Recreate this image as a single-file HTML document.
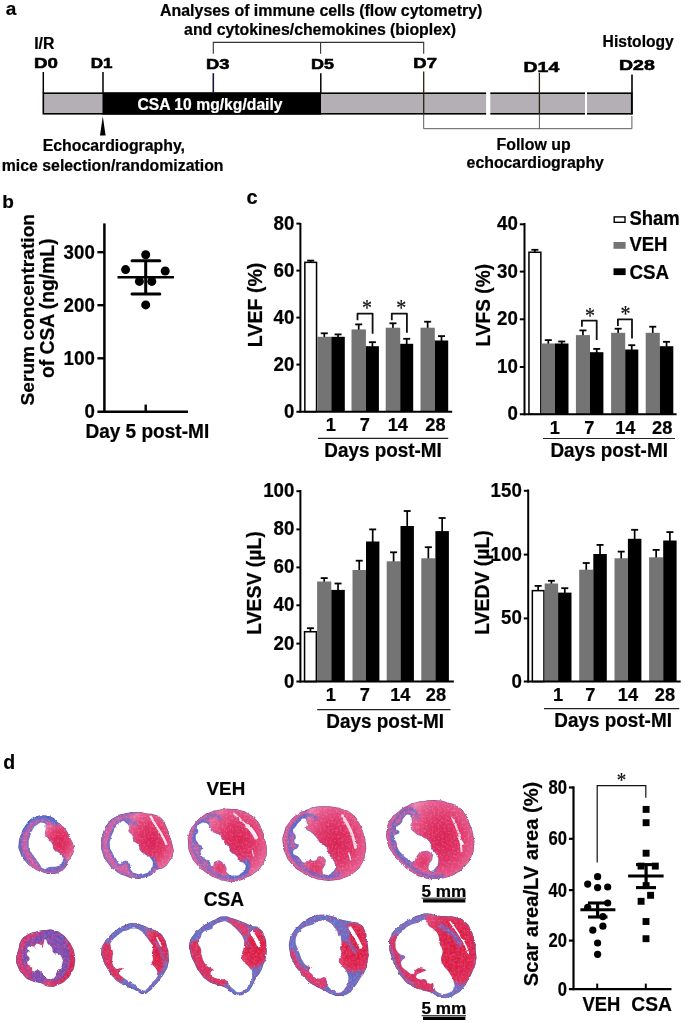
<!DOCTYPE html>
<html><head><meta charset="utf-8"><title>Figure</title>
<style>html,body{margin:0;padding:0;background:#fff}svg{display:block;will-change:transform}text{font-family:"Liberation Sans",sans-serif;font-weight:bold}</style>
</head><body>
<svg width="685" height="1023" viewBox="0 0 685 1023">
<rect width="685" height="1023" fill="#fff"/>
<text x="5.8" y="15.3" font-size="19" text-anchor="start" fill="#000"  stroke="#000" stroke-width="0.22">a</text>
<text x="160" y="15.7" font-size="15.9" text-anchor="start" fill="#000" textLength="322.3" lengthAdjust="spacingAndGlyphs"  stroke="#000" stroke-width="0.22">Analyses of immune cells (flow cytometry)</text>
<text x="184.1" y="35.1" font-size="15.9" text-anchor="start" fill="#000" textLength="272" lengthAdjust="spacingAndGlyphs"  stroke="#000" stroke-width="0.22">and cytokines/chemokines (bioplex)</text>
<path d="M213.3,53.8 V42.4 H423.7 V53.8 M320.6,42.4 V53.8" fill="none" stroke="#333" stroke-width="1.1"/>
<text x="34.2" y="48.7" font-size="16" text-anchor="start" fill="#000" textLength="20.2" lengthAdjust="spacingAndGlyphs"  stroke="#000" stroke-width="0.22">I/R</text>
<text x="33.9" y="68.2" font-size="14.6" text-anchor="start" fill="#000" textLength="23.9" lengthAdjust="spacingAndGlyphs" stroke="#000" stroke-width="0.55">D0</text>
<text x="90.7" y="68.2" font-size="14.6" text-anchor="start" fill="#000" textLength="21.8" lengthAdjust="spacingAndGlyphs" stroke="#000" stroke-width="0.55">D1</text>
<text x="205.9" y="69.3" font-size="14.6" text-anchor="start" fill="#000" textLength="23.5" lengthAdjust="spacingAndGlyphs" stroke="#000" stroke-width="0.55">D3</text>
<text x="311" y="69.3" font-size="14.6" text-anchor="start" fill="#000" textLength="23" lengthAdjust="spacingAndGlyphs" stroke="#000" stroke-width="0.55">D5</text>
<text x="413.3" y="67.7" font-size="14.6" text-anchor="start" fill="#000" textLength="23.6" lengthAdjust="spacingAndGlyphs" stroke="#000" stroke-width="0.55">D7</text>
<text x="523.6" y="71.5" font-size="14.6" text-anchor="start" fill="#000" textLength="35.6" lengthAdjust="spacingAndGlyphs" stroke="#000" stroke-width="0.55">D14</text>
<text x="619" y="69.5" font-size="14.6" text-anchor="start" fill="#000" textLength="35.8" lengthAdjust="spacingAndGlyphs" stroke="#000" stroke-width="0.55">D28</text>
<text x="602.6" y="47" font-size="15.6" text-anchor="start" fill="#000" textLength="71.2" lengthAdjust="spacingAndGlyphs"  stroke="#000" stroke-width="0.22">Histology</text>
<rect x="43.3" y="93.2" width="588.4" height="20.6" fill="#b4afb4" stroke="#000" stroke-width="1.6"/>
<rect x="102.5" y="92.5" width="218.5" height="22.1" fill="#000"/>
<rect x="486.1" y="91" width="4.2" height="25" fill="#fff"/>
<rect x="585" y="91" width="2" height="25" fill="#fff"/>
<text x="137.4" y="109.6" font-size="15.6" text-anchor="start" fill="#fff" textLength="145.2" lengthAdjust="spacingAndGlyphs"  stroke="#fff" stroke-width="0.22">CSA 10 mg/kg/daily</text>
<line x1="43.3" y1="72" x2="43.3" y2="93" stroke="#000" stroke-width="1.5" stroke-linecap="butt"/>
<line x1="103" y1="72" x2="103" y2="93" stroke="#000" stroke-width="1.5" stroke-linecap="butt"/>
<line x1="213.3" y1="73.2" x2="213.3" y2="93" stroke="#1e1240" stroke-width="1.6" stroke-linecap="butt"/>
<line x1="320.8" y1="73.2" x2="320.8" y2="93" stroke="#000" stroke-width="1.5" stroke-linecap="butt"/>
<line x1="423.7" y1="71.6" x2="423.7" y2="114.4" stroke="#2b2110" stroke-width="1.3" stroke-linecap="butt"/>
<line x1="539.4" y1="72.8" x2="539.4" y2="114.4" stroke="#2b2110" stroke-width="1.3" stroke-linecap="butt"/>
<line x1="632" y1="74.4" x2="632" y2="114.4" stroke="#000" stroke-width="1.6" stroke-linecap="butt"/>
<path d="M102.8,116.3 L105.6,135.5 H100 Z" fill="#000"/>
<text x="42.7" y="151.3" font-size="15.8" text-anchor="start" fill="#000" textLength="142.3" lengthAdjust="spacingAndGlyphs"  stroke="#000" stroke-width="0.22">Echocardiography,</text>
<text x="1.8" y="170.5" font-size="15.8" text-anchor="start" fill="#000" textLength="221.7" lengthAdjust="spacingAndGlyphs"  stroke="#000" stroke-width="0.22">mice selection/randomization</text>
<path d="M423.7,114.4 V128.7 H631.9 V116 M539.4,114.4 V128.7" fill="none" stroke="#4a4a4a" stroke-width="0.9"/>
<text x="496.5" y="149.8" font-size="15.8" text-anchor="start" fill="#000" textLength="74.1" lengthAdjust="spacingAndGlyphs"  stroke="#000" stroke-width="0.22">Follow up</text>
<text x="466.6" y="167.8" font-size="15.8" text-anchor="start" fill="#000" textLength="137.3" lengthAdjust="spacingAndGlyphs"  stroke="#000" stroke-width="0.22">echocardiography</text>
<text x="2.2" y="207.8" font-size="19" text-anchor="start" fill="#000"  stroke="#000" stroke-width="0.22">b</text>
<line x1="104.4" y1="223.4" x2="104.4" y2="413" stroke="#000" stroke-width="2.5" stroke-linecap="butt"/>
<line x1="97.4" y1="411.8" x2="188" y2="411.8" stroke="#000" stroke-width="2.5" stroke-linecap="butt"/>
<line x1="97.4" y1="252.2" x2="104.4" y2="252.2" stroke="#000" stroke-width="2.4" stroke-linecap="butt"/>
<line x1="97.4" y1="305.2" x2="104.4" y2="305.2" stroke="#000" stroke-width="2.4" stroke-linecap="butt"/>
<line x1="97.4" y1="358.3" x2="104.4" y2="358.3" stroke="#000" stroke-width="2.4" stroke-linecap="butt"/>
<text x="94.8" y="258.5" font-size="20" text-anchor="end" fill="#000" textLength="31.2" lengthAdjust="spacingAndGlyphs"  stroke="#000" stroke-width="0.22">300</text>
<text x="94.8" y="311.5" font-size="20" text-anchor="end" fill="#000" textLength="31.2" lengthAdjust="spacingAndGlyphs"  stroke="#000" stroke-width="0.22">200</text>
<text x="94.8" y="364.6" font-size="20" text-anchor="end" fill="#000" textLength="31.2" lengthAdjust="spacingAndGlyphs"  stroke="#000" stroke-width="0.22">100</text>
<text x="94.8" y="418.0" font-size="20" text-anchor="end" fill="#000" textLength="10.4" lengthAdjust="spacingAndGlyphs"  stroke="#000" stroke-width="0.22">0</text>
<line x1="145.7" y1="404.6" x2="145.7" y2="411.7" stroke="#000" stroke-width="2.4" stroke-linecap="butt"/>
<text x="85.4" y="437.7" font-size="19.5" text-anchor="start" fill="#000" textLength="123.8" lengthAdjust="spacingAndGlyphs"  stroke="#000" stroke-width="0.22">Day 5 post-MI</text>
<text transform="translate(33.9,309.7) rotate(-90)" font-size="19.2" text-anchor="middle" fill="#000" stroke="#000" stroke-width="0.22" textLength="191.5" lengthAdjust="spacingAndGlyphs">Serum concentration</text>
<text transform="translate(53.7,308.3) rotate(-90)" font-size="19.4" text-anchor="middle" fill="#000" stroke="#000" stroke-width="0.22" textLength="139.5" lengthAdjust="spacingAndGlyphs">of CSA (ng/mL)</text>
<circle cx="145.7" cy="254.8" r="4.5" fill="#000"/>
<circle cx="125.6" cy="269.6" r="4.5" fill="#000"/>
<circle cx="165.2" cy="271" r="4.5" fill="#000"/>
<circle cx="139.4" cy="281.4" r="4.5" fill="#000"/>
<circle cx="151.8" cy="281.4" r="4.5" fill="#000"/>
<circle cx="145.7" cy="304.9" r="4.5" fill="#000"/>
<line x1="117.5" y1="277.3" x2="174" y2="277.3" stroke="#000" stroke-width="2.4" stroke-linecap="butt"/>
<line x1="132" y1="260.7" x2="159.8" y2="260.7" stroke="#000" stroke-width="3" stroke-linecap="round"/>
<line x1="132" y1="294" x2="159.8" y2="294" stroke="#000" stroke-width="3" stroke-linecap="round"/>
<line x1="145.7" y1="260.7" x2="145.7" y2="294" stroke="#000" stroke-width="3" stroke-linecap="butt"/>
<text x="246.6" y="203.8" font-size="20" text-anchor="start" fill="#000"  stroke="#000" stroke-width="0.22">c</text>
<line x1="310.70000000000005" y1="260.6" x2="310.70000000000005" y2="262.6" stroke="#000" stroke-width="1.7" stroke-linecap="butt"/>
<line x1="307.20000000000005" y1="260.6" x2="314.20000000000005" y2="260.6" stroke="#000" stroke-width="1.8" stroke-linecap="butt"/>
<rect x="304.85" y="262.35" width="11.699999999999989" height="149.34999999999997" fill="#fff" stroke="#000" stroke-width="1.5"/>
<line x1="324.3" y1="333.3" x2="324.3" y2="337.8" stroke="#000" stroke-width="1.7" stroke-linecap="butt"/>
<line x1="320.8" y1="333.3" x2="327.8" y2="333.3" stroke="#000" stroke-width="1.8" stroke-linecap="butt"/>
<rect x="317.3" y="336.8" width="14.0" height="74.89999999999998" fill="#747474"/>
<line x1="338.05" y1="334.4" x2="338.05" y2="337.8" stroke="#000" stroke-width="1.7" stroke-linecap="butt"/>
<line x1="334.55" y1="334.4" x2="341.55" y2="334.4" stroke="#000" stroke-width="1.8" stroke-linecap="butt"/>
<rect x="331.3" y="336.8" width="13.5" height="74.89999999999998" fill="#000"/>
<line x1="358.7" y1="324.4" x2="358.7" y2="330.4" stroke="#000" stroke-width="1.7" stroke-linecap="butt"/>
<line x1="355.2" y1="324.4" x2="362.2" y2="324.4" stroke="#000" stroke-width="1.8" stroke-linecap="butt"/>
<rect x="351.5" y="329.4" width="14.399999999999977" height="82.30000000000001" fill="#747474"/>
<line x1="372.4" y1="342.2" x2="372.4" y2="347.2" stroke="#000" stroke-width="1.7" stroke-linecap="butt"/>
<line x1="368.9" y1="342.2" x2="375.9" y2="342.2" stroke="#000" stroke-width="1.8" stroke-linecap="butt"/>
<rect x="365.9" y="346.2" width="13.0" height="65.5" fill="#000"/>
<line x1="392.95" y1="323.3" x2="392.95" y2="328.7" stroke="#000" stroke-width="1.7" stroke-linecap="butt"/>
<line x1="389.45" y1="323.3" x2="396.45" y2="323.3" stroke="#000" stroke-width="1.8" stroke-linecap="butt"/>
<rect x="385.7" y="327.7" width="14.5" height="84.0" fill="#747474"/>
<line x1="406.7" y1="338.8" x2="406.7" y2="344.8" stroke="#000" stroke-width="1.7" stroke-linecap="butt"/>
<line x1="403.2" y1="338.8" x2="410.2" y2="338.8" stroke="#000" stroke-width="1.8" stroke-linecap="butt"/>
<rect x="400.2" y="343.8" width="13.0" height="67.89999999999998" fill="#000"/>
<line x1="427.65" y1="321.7" x2="427.65" y2="328.7" stroke="#000" stroke-width="1.7" stroke-linecap="butt"/>
<line x1="424.15" y1="321.7" x2="431.15" y2="321.7" stroke="#000" stroke-width="1.8" stroke-linecap="butt"/>
<rect x="420.5" y="327.7" width="14.300000000000011" height="84.0" fill="#747474"/>
<line x1="441.5" y1="336.1" x2="441.5" y2="341.5" stroke="#000" stroke-width="1.7" stroke-linecap="butt"/>
<line x1="438.0" y1="336.1" x2="445.0" y2="336.1" stroke="#000" stroke-width="1.8" stroke-linecap="butt"/>
<rect x="434.8" y="340.5" width="13.399999999999977" height="71.19999999999999" fill="#000"/>
<line x1="300.4" y1="223" x2="300.4" y2="412.7" stroke="#000" stroke-width="2" stroke-linecap="butt"/>
<line x1="296.4" y1="411.7" x2="452.2" y2="411.7" stroke="#000" stroke-width="2" stroke-linecap="butt"/>
<line x1="296.4" y1="223.6" x2="300.4" y2="223.6" stroke="#000" stroke-width="2" stroke-linecap="butt"/>
<text x="294.4" y="229.5" font-size="20" text-anchor="end" fill="#000" textLength="20.8" lengthAdjust="spacingAndGlyphs"  stroke="#000" stroke-width="0.22">80</text>
<line x1="296.4" y1="270.6" x2="300.4" y2="270.6" stroke="#000" stroke-width="2" stroke-linecap="butt"/>
<text x="294.4" y="276.5" font-size="20" text-anchor="end" fill="#000" textLength="20.8" lengthAdjust="spacingAndGlyphs"  stroke="#000" stroke-width="0.22">60</text>
<line x1="296.4" y1="317.6" x2="300.4" y2="317.6" stroke="#000" stroke-width="2" stroke-linecap="butt"/>
<text x="294.4" y="323.5" font-size="20" text-anchor="end" fill="#000" textLength="20.8" lengthAdjust="spacingAndGlyphs"  stroke="#000" stroke-width="0.22">40</text>
<line x1="296.4" y1="364.6" x2="300.4" y2="364.6" stroke="#000" stroke-width="2" stroke-linecap="butt"/>
<text x="294.4" y="370.5" font-size="20" text-anchor="end" fill="#000" textLength="20.8" lengthAdjust="spacingAndGlyphs"  stroke="#000" stroke-width="0.22">20</text>
<text x="294.4" y="417.59999999999997" font-size="20" text-anchor="end" fill="#000" textLength="10.4" lengthAdjust="spacingAndGlyphs"  stroke="#000" stroke-width="0.22">0</text>
<text x="330.7" y="430.8" font-size="19.2" text-anchor="middle" fill="#000" textLength="10.14" lengthAdjust="spacingAndGlyphs"  stroke="#000" stroke-width="0.22">1</text>
<text x="364.9" y="430.8" font-size="19.2" text-anchor="middle" fill="#000" textLength="10.14" lengthAdjust="spacingAndGlyphs"  stroke="#000" stroke-width="0.22">7</text>
<text x="397.8" y="430.8" font-size="19.2" text-anchor="middle" fill="#000" textLength="20.29" lengthAdjust="spacingAndGlyphs"  stroke="#000" stroke-width="0.22">14</text>
<text x="435.4" y="430.8" font-size="19.2" text-anchor="middle" fill="#000" textLength="20.29" lengthAdjust="spacingAndGlyphs"  stroke="#000" stroke-width="0.22">28</text>
<line x1="317.9" y1="438.3" x2="448.2" y2="438.3" stroke="#222" stroke-width="1.2" stroke-linecap="butt"/>
<text x="324.3" y="457.2" font-size="19.5" text-anchor="start" fill="#000" textLength="117.5" lengthAdjust="spacingAndGlyphs"  stroke="#000" stroke-width="0.22">Days post-MI</text>
<text transform="translate(262.09999999999997,304.9) rotate(-90)" font-size="19.9" text-anchor="middle" fill="#000" stroke="#000" stroke-width="0.22" textLength="84.6" lengthAdjust="spacingAndGlyphs">LVEF (%)</text>
<path d="M357.5,320.3 V313.6 H372.6 V333.8" fill="none" stroke="#111" stroke-width="1.8" stroke-linejoin="round"/>
<text transform="translate(366.9,304.2) scale(1,1.15)" x="0" y="9.44" font-size="20" text-anchor="middle" style="font-family:'Liberation Serif',serif;font-weight:normal" fill="#111" stroke="#111" stroke-width="0.2">*</text>
<path d="M391.8,320.3 V313.6 H406.9 V332.7" fill="none" stroke="#111" stroke-width="1.8" stroke-linejoin="round"/>
<text transform="translate(401.2,304.2) scale(1,1.15)" x="0" y="9.44" font-size="20" text-anchor="middle" style="font-family:'Liberation Serif',serif;font-weight:normal" fill="#111" stroke="#111" stroke-width="0.2">*</text>
<line x1="534.9000000000001" y1="249.8" x2="534.9000000000001" y2="252.5" stroke="#000" stroke-width="1.7" stroke-linecap="butt"/>
<line x1="531.4000000000001" y1="249.8" x2="538.4000000000001" y2="249.8" stroke="#000" stroke-width="1.8" stroke-linecap="butt"/>
<rect x="528.95" y="252.25" width="11.899999999999977" height="162.05" fill="#fff" stroke="#000" stroke-width="1.5"/>
<line x1="548.3" y1="340.1" x2="548.3" y2="344.5" stroke="#000" stroke-width="1.7" stroke-linecap="butt"/>
<line x1="544.8" y1="340.1" x2="551.8" y2="340.1" stroke="#000" stroke-width="1.8" stroke-linecap="butt"/>
<rect x="541.6" y="343.5" width="13.399999999999977" height="70.80000000000001" fill="#747474"/>
<line x1="561.75" y1="341.5" x2="561.75" y2="344.5" stroke="#000" stroke-width="1.7" stroke-linecap="butt"/>
<line x1="558.25" y1="341.5" x2="565.25" y2="341.5" stroke="#000" stroke-width="1.8" stroke-linecap="butt"/>
<rect x="555" y="343.5" width="13.5" height="70.80000000000001" fill="#000"/>
<line x1="582.95" y1="330.4" x2="582.95" y2="336.1" stroke="#000" stroke-width="1.7" stroke-linecap="butt"/>
<line x1="579.45" y1="330.4" x2="586.45" y2="330.4" stroke="#000" stroke-width="1.8" stroke-linecap="butt"/>
<rect x="575.9" y="335.1" width="14.100000000000023" height="79.19999999999999" fill="#747474"/>
<line x1="596.7" y1="348.9" x2="596.7" y2="353.2" stroke="#000" stroke-width="1.7" stroke-linecap="butt"/>
<line x1="593.2" y1="348.9" x2="600.2" y2="348.9" stroke="#000" stroke-width="1.8" stroke-linecap="butt"/>
<rect x="590" y="352.2" width="13.399999999999977" height="62.10000000000002" fill="#000"/>
<line x1="618.1500000000001" y1="328.7" x2="618.1500000000001" y2="333.8" stroke="#000" stroke-width="1.7" stroke-linecap="butt"/>
<line x1="614.6500000000001" y1="328.7" x2="621.6500000000001" y2="328.7" stroke="#000" stroke-width="1.8" stroke-linecap="butt"/>
<rect x="611.1" y="332.8" width="14.100000000000023" height="81.5" fill="#747474"/>
<line x1="631.75" y1="345.2" x2="631.75" y2="350.5" stroke="#000" stroke-width="1.7" stroke-linecap="butt"/>
<line x1="628.25" y1="345.2" x2="635.25" y2="345.2" stroke="#000" stroke-width="1.8" stroke-linecap="butt"/>
<rect x="625.2" y="349.5" width="13.099999999999909" height="64.80000000000001" fill="#000"/>
<line x1="652.75" y1="326.7" x2="652.75" y2="333.8" stroke="#000" stroke-width="1.7" stroke-linecap="butt"/>
<line x1="649.25" y1="326.7" x2="656.25" y2="326.7" stroke="#000" stroke-width="1.8" stroke-linecap="butt"/>
<rect x="645.7" y="332.8" width="14.099999999999909" height="81.5" fill="#747474"/>
<line x1="666.55" y1="341.8" x2="666.55" y2="347.2" stroke="#000" stroke-width="1.7" stroke-linecap="butt"/>
<line x1="663.05" y1="341.8" x2="670.05" y2="341.8" stroke="#000" stroke-width="1.8" stroke-linecap="butt"/>
<rect x="659.8" y="346.2" width="13.5" height="68.10000000000002" fill="#000"/>
<line x1="524.5" y1="223" x2="524.5" y2="415.3" stroke="#000" stroke-width="2" stroke-linecap="butt"/>
<line x1="519.8" y1="414.3" x2="676.6" y2="414.3" stroke="#000" stroke-width="2" stroke-linecap="butt"/>
<line x1="519.8" y1="224.3" x2="524.5" y2="224.3" stroke="#000" stroke-width="2" stroke-linecap="butt"/>
<text x="517.8" y="230.20000000000002" font-size="20" text-anchor="end" fill="#000" textLength="20.8" lengthAdjust="spacingAndGlyphs"  stroke="#000" stroke-width="0.22">40</text>
<line x1="519.8" y1="271.6" x2="524.5" y2="271.6" stroke="#000" stroke-width="2" stroke-linecap="butt"/>
<text x="517.8" y="277.5" font-size="20" text-anchor="end" fill="#000" textLength="20.8" lengthAdjust="spacingAndGlyphs"  stroke="#000" stroke-width="0.22">30</text>
<line x1="519.8" y1="319.3" x2="524.5" y2="319.3" stroke="#000" stroke-width="2" stroke-linecap="butt"/>
<text x="517.8" y="325.2" font-size="20" text-anchor="end" fill="#000" textLength="20.8" lengthAdjust="spacingAndGlyphs"  stroke="#000" stroke-width="0.22">20</text>
<line x1="519.8" y1="367" x2="524.5" y2="367" stroke="#000" stroke-width="2" stroke-linecap="butt"/>
<text x="517.8" y="372.9" font-size="20" text-anchor="end" fill="#000" textLength="20.8" lengthAdjust="spacingAndGlyphs"  stroke="#000" stroke-width="0.22">10</text>
<text x="517.8" y="420.2" font-size="20" text-anchor="end" fill="#000" textLength="10.4" lengthAdjust="spacingAndGlyphs"  stroke="#000" stroke-width="0.22">0</text>
<text x="554.7" y="433.5" font-size="19.2" text-anchor="middle" fill="#000" textLength="10.14" lengthAdjust="spacingAndGlyphs"  stroke="#000" stroke-width="0.22">1</text>
<text x="589.3" y="433.5" font-size="19.2" text-anchor="middle" fill="#000" textLength="10.14" lengthAdjust="spacingAndGlyphs"  stroke="#000" stroke-width="0.22">7</text>
<text x="625.3" y="433.5" font-size="19.2" text-anchor="middle" fill="#000" textLength="20.29" lengthAdjust="spacingAndGlyphs"  stroke="#000" stroke-width="0.22">14</text>
<text x="662.2" y="433.5" font-size="19.2" text-anchor="middle" fill="#000" textLength="20.29" lengthAdjust="spacingAndGlyphs"  stroke="#000" stroke-width="0.22">28</text>
<line x1="543" y1="438.5" x2="675" y2="438.5" stroke="#222" stroke-width="1.2" stroke-linecap="butt"/>
<text x="550.4000000000001" y="457.2" font-size="19.5" text-anchor="start" fill="#000" textLength="117.5" lengthAdjust="spacingAndGlyphs"  stroke="#000" stroke-width="0.22">Days post-MI</text>
<text transform="translate(489.59999999999997,305.2) rotate(-90)" font-size="19.9" text-anchor="middle" fill="#000" stroke="#000" stroke-width="0.22" textLength="82.6" lengthAdjust="spacingAndGlyphs">LVFS (%)</text>
<path d="M581.9,326.7 V320.6 H596.7 V340.1" fill="none" stroke="#111" stroke-width="1.8" stroke-linejoin="round"/>
<text transform="translate(590,311.9) scale(1,1.15)" x="0" y="9.44" font-size="20" text-anchor="middle" style="font-family:'Liberation Serif',serif;font-weight:normal" fill="#111" stroke="#111" stroke-width="0.2">*</text>
<path d="M617.9,326 V319.3 H632 V338.5" fill="none" stroke="#111" stroke-width="1.8" stroke-linejoin="round"/>
<text transform="translate(625.6,310.3) scale(1,1.15)" x="0" y="9.44" font-size="20" text-anchor="middle" style="font-family:'Liberation Serif',serif;font-weight:normal" fill="#111" stroke="#111" stroke-width="0.2">*</text>
<rect x="614.2" y="216.9" width="10.8" height="5.4" fill="#fff" stroke="#000" stroke-width="1.4"/>
<text x="629.4" y="225" font-size="19.4" text-anchor="start" fill="#000" textLength="50.4" lengthAdjust="spacingAndGlyphs"  stroke="#000" stroke-width="0.22">Sham</text>
<rect x="613.5" y="242" width="12.1" height="6.8" fill="#747474"/>
<text x="629.4" y="251.2" font-size="19.4" text-anchor="start" fill="#000" textLength="38" lengthAdjust="spacingAndGlyphs"  stroke="#000" stroke-width="0.22">VEH</text>
<rect x="613.5" y="268.3" width="12.1" height="6.8" fill="#000"/>
<text x="629.4" y="278.7" font-size="19.4" text-anchor="start" fill="#000" textLength="39.7" lengthAdjust="spacingAndGlyphs"  stroke="#000" stroke-width="0.22">CSA</text>
<line x1="310.45000000000005" y1="628.2" x2="310.45000000000005" y2="632" stroke="#000" stroke-width="1.7" stroke-linecap="butt"/>
<line x1="306.95000000000005" y1="628.2" x2="313.95000000000005" y2="628.2" stroke="#000" stroke-width="1.8" stroke-linecap="butt"/>
<rect x="304.55" y="631.75" width="11.800000000000011" height="49.85000000000002" fill="#fff" stroke="#000" stroke-width="1.5"/>
<line x1="324.20000000000005" y1="578.1" x2="324.20000000000005" y2="582.5" stroke="#000" stroke-width="1.7" stroke-linecap="butt"/>
<line x1="320.70000000000005" y1="578.1" x2="327.70000000000005" y2="578.1" stroke="#000" stroke-width="1.8" stroke-linecap="butt"/>
<rect x="317.1" y="581.5" width="14.199999999999989" height="100.10000000000002" fill="#747474"/>
<line x1="338.05" y1="583.5" x2="338.05" y2="590.9" stroke="#000" stroke-width="1.7" stroke-linecap="butt"/>
<line x1="334.55" y1="583.5" x2="341.55" y2="583.5" stroke="#000" stroke-width="1.8" stroke-linecap="butt"/>
<rect x="331.3" y="589.9" width="13.5" height="91.70000000000005" fill="#000"/>
<line x1="359.25" y1="560.7" x2="359.25" y2="571" stroke="#000" stroke-width="1.7" stroke-linecap="butt"/>
<line x1="355.75" y1="560.7" x2="362.75" y2="560.7" stroke="#000" stroke-width="1.8" stroke-linecap="butt"/>
<rect x="352.5" y="570" width="13.5" height="111.60000000000002" fill="#747474"/>
<line x1="372.7" y1="529.4" x2="372.7" y2="542.5" stroke="#000" stroke-width="1.7" stroke-linecap="butt"/>
<line x1="369.2" y1="529.4" x2="376.2" y2="529.4" stroke="#000" stroke-width="1.8" stroke-linecap="butt"/>
<rect x="366" y="541.5" width="13.399999999999977" height="140.10000000000002" fill="#000"/>
<line x1="393.6" y1="552.3" x2="393.6" y2="562.3" stroke="#000" stroke-width="1.7" stroke-linecap="butt"/>
<line x1="390.1" y1="552.3" x2="397.1" y2="552.3" stroke="#000" stroke-width="1.8" stroke-linecap="butt"/>
<rect x="386.7" y="561.3" width="13.800000000000011" height="120.30000000000007" fill="#747474"/>
<line x1="407.2" y1="511" x2="407.2" y2="527" stroke="#000" stroke-width="1.7" stroke-linecap="butt"/>
<line x1="403.7" y1="511" x2="410.7" y2="511" stroke="#000" stroke-width="1.8" stroke-linecap="butt"/>
<rect x="400.5" y="526" width="13.399999999999977" height="155.60000000000002" fill="#000"/>
<line x1="428.35" y1="547.2" x2="428.35" y2="559.3" stroke="#000" stroke-width="1.7" stroke-linecap="butt"/>
<line x1="424.85" y1="547.2" x2="431.85" y2="547.2" stroke="#000" stroke-width="1.8" stroke-linecap="butt"/>
<rect x="421.3" y="558.3" width="14.099999999999966" height="123.30000000000007" fill="#747474"/>
<line x1="442.15" y1="518" x2="442.15" y2="532.1" stroke="#000" stroke-width="1.7" stroke-linecap="butt"/>
<line x1="438.65" y1="518" x2="445.65" y2="518" stroke="#000" stroke-width="1.8" stroke-linecap="butt"/>
<rect x="435.4" y="531.1" width="13.5" height="150.5" fill="#000"/>
<line x1="300.4" y1="490" x2="300.4" y2="682.6" stroke="#000" stroke-width="2" stroke-linecap="butt"/>
<line x1="296.4" y1="681.6" x2="453.9" y2="681.6" stroke="#000" stroke-width="2" stroke-linecap="butt"/>
<line x1="296.4" y1="491.2" x2="300.4" y2="491.2" stroke="#000" stroke-width="2" stroke-linecap="butt"/>
<text x="294.4" y="497.09999999999997" font-size="20" text-anchor="end" fill="#000" textLength="31.2" lengthAdjust="spacingAndGlyphs"  stroke="#000" stroke-width="0.22">100</text>
<line x1="296.4" y1="529.4" x2="300.4" y2="529.4" stroke="#000" stroke-width="2" stroke-linecap="butt"/>
<text x="294.4" y="535.3" font-size="20" text-anchor="end" fill="#000" textLength="20.8" lengthAdjust="spacingAndGlyphs"  stroke="#000" stroke-width="0.22">80</text>
<line x1="296.4" y1="567.4" x2="300.4" y2="567.4" stroke="#000" stroke-width="2" stroke-linecap="butt"/>
<text x="294.4" y="573.3" font-size="20" text-anchor="end" fill="#000" textLength="20.8" lengthAdjust="spacingAndGlyphs"  stroke="#000" stroke-width="0.22">60</text>
<line x1="296.4" y1="605.3" x2="300.4" y2="605.3" stroke="#000" stroke-width="2" stroke-linecap="butt"/>
<text x="294.4" y="611.1999999999999" font-size="20" text-anchor="end" fill="#000" textLength="20.8" lengthAdjust="spacingAndGlyphs"  stroke="#000" stroke-width="0.22">40</text>
<line x1="296.4" y1="643.6" x2="300.4" y2="643.6" stroke="#000" stroke-width="2" stroke-linecap="butt"/>
<text x="294.4" y="649.5" font-size="20" text-anchor="end" fill="#000" textLength="20.8" lengthAdjust="spacingAndGlyphs"  stroke="#000" stroke-width="0.22">20</text>
<text x="294.4" y="687.5" font-size="20" text-anchor="end" fill="#000" textLength="10.4" lengthAdjust="spacingAndGlyphs"  stroke="#000" stroke-width="0.22">0</text>
<text x="330.7" y="701" font-size="19.2" text-anchor="middle" fill="#000" textLength="10.14" lengthAdjust="spacingAndGlyphs"  stroke="#000" stroke-width="0.22">1</text>
<text x="364.9" y="701" font-size="19.2" text-anchor="middle" fill="#000" textLength="10.14" lengthAdjust="spacingAndGlyphs"  stroke="#000" stroke-width="0.22">7</text>
<text x="400.3" y="701" font-size="19.2" text-anchor="middle" fill="#000" textLength="20.29" lengthAdjust="spacingAndGlyphs"  stroke="#000" stroke-width="0.22">14</text>
<text x="436" y="701" font-size="19.2" text-anchor="middle" fill="#000" textLength="20.29" lengthAdjust="spacingAndGlyphs"  stroke="#000" stroke-width="0.22">28</text>
<line x1="317.2" y1="709.6" x2="450.5" y2="709.6" stroke="#222" stroke-width="1.2" stroke-linecap="butt"/>
<text x="326.3" y="728.3" font-size="19.5" text-anchor="start" fill="#000" textLength="117.8" lengthAdjust="spacingAndGlyphs"  stroke="#000" stroke-width="0.22">Days post-MI</text>
<text transform="translate(260.7,583) rotate(-90)" font-size="19.9" text-anchor="middle" fill="#000" stroke="#000" stroke-width="0.22" textLength="103.5" lengthAdjust="spacingAndGlyphs">LVESV (µL)</text>
<line x1="538.1500000000001" y1="585.9" x2="538.1500000000001" y2="590.9" stroke="#000" stroke-width="1.7" stroke-linecap="butt"/>
<line x1="534.6500000000001" y1="585.9" x2="541.6500000000001" y2="585.9" stroke="#000" stroke-width="1.8" stroke-linecap="butt"/>
<rect x="532.35" y="590.65" width="11.600000000000023" height="90.95000000000005" fill="#fff" stroke="#000" stroke-width="1.5"/>
<line x1="551.4000000000001" y1="580.8" x2="551.4000000000001" y2="584.5" stroke="#000" stroke-width="1.7" stroke-linecap="butt"/>
<line x1="547.9000000000001" y1="580.8" x2="554.9000000000001" y2="580.8" stroke="#000" stroke-width="1.8" stroke-linecap="butt"/>
<rect x="544.7" y="583.5" width="13.399999999999977" height="98.10000000000002" fill="#747474"/>
<line x1="564.8" y1="588.2" x2="564.8" y2="593.6" stroke="#000" stroke-width="1.7" stroke-linecap="butt"/>
<line x1="561.3" y1="588.2" x2="568.3" y2="588.2" stroke="#000" stroke-width="1.8" stroke-linecap="butt"/>
<rect x="558.1" y="592.6" width="13.399999999999977" height="89.0" fill="#000"/>
<line x1="586.25" y1="563" x2="586.25" y2="570.7" stroke="#000" stroke-width="1.7" stroke-linecap="butt"/>
<line x1="582.75" y1="563" x2="589.75" y2="563" stroke="#000" stroke-width="1.8" stroke-linecap="butt"/>
<rect x="579.2" y="569.7" width="14.099999999999909" height="111.89999999999998" fill="#747474"/>
<line x1="600.05" y1="544.9" x2="600.05" y2="555" stroke="#000" stroke-width="1.7" stroke-linecap="butt"/>
<line x1="596.55" y1="544.9" x2="603.55" y2="544.9" stroke="#000" stroke-width="1.8" stroke-linecap="butt"/>
<rect x="593.3" y="554" width="13.5" height="127.60000000000002" fill="#000"/>
<line x1="621.2" y1="551.6" x2="621.2" y2="559.3" stroke="#000" stroke-width="1.7" stroke-linecap="butt"/>
<line x1="617.7" y1="551.6" x2="624.7" y2="551.6" stroke="#000" stroke-width="1.8" stroke-linecap="butt"/>
<rect x="614.5" y="558.3" width="13.399999999999977" height="123.30000000000007" fill="#747474"/>
<line x1="634.65" y1="529.8" x2="634.65" y2="539.8" stroke="#000" stroke-width="1.7" stroke-linecap="butt"/>
<line x1="631.15" y1="529.8" x2="638.15" y2="529.8" stroke="#000" stroke-width="1.8" stroke-linecap="butt"/>
<rect x="627.9" y="538.8" width="13.5" height="142.80000000000007" fill="#000"/>
<line x1="656.1500000000001" y1="549.9" x2="656.1500000000001" y2="558.3" stroke="#000" stroke-width="1.7" stroke-linecap="butt"/>
<line x1="652.6500000000001" y1="549.9" x2="659.6500000000001" y2="549.9" stroke="#000" stroke-width="1.8" stroke-linecap="butt"/>
<rect x="649.1" y="557.3" width="14.100000000000023" height="124.30000000000007" fill="#747474"/>
<line x1="669.9000000000001" y1="532.1" x2="669.9000000000001" y2="541.5" stroke="#000" stroke-width="1.7" stroke-linecap="butt"/>
<line x1="666.4000000000001" y1="532.1" x2="673.4000000000001" y2="532.1" stroke="#000" stroke-width="1.8" stroke-linecap="butt"/>
<rect x="663.2" y="540.5" width="13.399999999999977" height="141.10000000000002" fill="#000"/>
<line x1="528.2" y1="489.5" x2="528.2" y2="682.6" stroke="#000" stroke-width="2" stroke-linecap="butt"/>
<line x1="523.8" y1="681.6" x2="680.7" y2="681.6" stroke="#000" stroke-width="2" stroke-linecap="butt"/>
<line x1="523.8" y1="490.8" x2="528.2" y2="490.8" stroke="#000" stroke-width="2" stroke-linecap="butt"/>
<text x="521.8" y="496.7" font-size="20" text-anchor="end" fill="#000" textLength="31.2" lengthAdjust="spacingAndGlyphs"  stroke="#000" stroke-width="0.22">150</text>
<line x1="523.8" y1="554.6" x2="528.2" y2="554.6" stroke="#000" stroke-width="2" stroke-linecap="butt"/>
<text x="521.8" y="560.5" font-size="20" text-anchor="end" fill="#000" textLength="31.2" lengthAdjust="spacingAndGlyphs"  stroke="#000" stroke-width="0.22">100</text>
<line x1="523.8" y1="618.4" x2="528.2" y2="618.4" stroke="#000" stroke-width="2" stroke-linecap="butt"/>
<text x="521.8" y="624.3" font-size="20" text-anchor="end" fill="#000" textLength="20.8" lengthAdjust="spacingAndGlyphs"  stroke="#000" stroke-width="0.22">50</text>
<text x="521.8" y="687.5" font-size="20" text-anchor="end" fill="#000" textLength="10.4" lengthAdjust="spacingAndGlyphs"  stroke="#000" stroke-width="0.22">0</text>
<text x="558" y="701" font-size="19.2" text-anchor="middle" fill="#000" textLength="10.14" lengthAdjust="spacingAndGlyphs"  stroke="#000" stroke-width="0.22">1</text>
<text x="590.3" y="701" font-size="19.2" text-anchor="middle" fill="#000" textLength="10.14" lengthAdjust="spacingAndGlyphs"  stroke="#000" stroke-width="0.22">7</text>
<text x="628" y="701" font-size="19.2" text-anchor="middle" fill="#000" textLength="20.29" lengthAdjust="spacingAndGlyphs"  stroke="#000" stroke-width="0.22">14</text>
<text x="664.9" y="701" font-size="19.2" text-anchor="middle" fill="#000" textLength="20.29" lengthAdjust="spacingAndGlyphs"  stroke="#000" stroke-width="0.22">28</text>
<line x1="544" y1="708.6" x2="679.3" y2="708.6" stroke="#222" stroke-width="1.2" stroke-linecap="butt"/>
<text x="554.3000000000001" y="727.3" font-size="19.5" text-anchor="start" fill="#000" textLength="117.6" lengthAdjust="spacingAndGlyphs"  stroke="#000" stroke-width="0.22">Days post-MI</text>
<text transform="translate(489.2,582.5) rotate(-90)" font-size="19.9" text-anchor="middle" fill="#000" stroke="#000" stroke-width="0.22" textLength="104.6" lengthAdjust="spacingAndGlyphs">LVEDV (µL)</text>
<line x1="573.5" y1="786.3" x2="573.5" y2="990.2" stroke="#000" stroke-width="2.2" stroke-linecap="butt"/>
<line x1="568.9" y1="989.2" x2="671.5" y2="989.2" stroke="#000" stroke-width="2.2" stroke-linecap="butt"/>
<line x1="568.9" y1="787.5" x2="573.5" y2="787.5" stroke="#000" stroke-width="2.2" stroke-linecap="butt"/>
<text x="566.9" y="793.9" font-size="19.8" text-anchor="end" fill="#000" textLength="18.5" lengthAdjust="spacingAndGlyphs"  stroke="#000" stroke-width="0.22">80</text>
<line x1="568.9" y1="838.8" x2="573.5" y2="838.8" stroke="#000" stroke-width="2.2" stroke-linecap="butt"/>
<text x="566.9" y="845.1999999999999" font-size="19.8" text-anchor="end" fill="#000" textLength="18.5" lengthAdjust="spacingAndGlyphs"  stroke="#000" stroke-width="0.22">60</text>
<line x1="568.9" y1="890.1" x2="573.5" y2="890.1" stroke="#000" stroke-width="2.2" stroke-linecap="butt"/>
<text x="566.9" y="896.5" font-size="19.8" text-anchor="end" fill="#000" textLength="18.5" lengthAdjust="spacingAndGlyphs"  stroke="#000" stroke-width="0.22">40</text>
<line x1="568.9" y1="940.6" x2="573.5" y2="940.6" stroke="#000" stroke-width="2.2" stroke-linecap="butt"/>
<text x="566.9" y="947.0" font-size="19.8" text-anchor="end" fill="#000" textLength="18.5" lengthAdjust="spacingAndGlyphs"  stroke="#000" stroke-width="0.22">20</text>
<text x="566.9" y="995.9" font-size="19.8" text-anchor="end" fill="#000" textLength="9.25" lengthAdjust="spacingAndGlyphs"  stroke="#000" stroke-width="0.22">0</text>
<line x1="597.2" y1="983.6" x2="597.2" y2="989" stroke="#000" stroke-width="2" stroke-linecap="butt"/>
<line x1="645.8" y1="983.6" x2="645.8" y2="989" stroke="#000" stroke-width="2" stroke-linecap="butt"/>
<text x="582.6" y="1011.2" font-size="20.8" text-anchor="start" fill="#000" textLength="37.8" lengthAdjust="spacingAndGlyphs"  stroke="#000" stroke-width="0.22">VEH</text>
<text x="631.3" y="1011.2" font-size="20.8" text-anchor="start" fill="#000" textLength="40.6" lengthAdjust="spacingAndGlyphs"  stroke="#000" stroke-width="0.22">CSA</text>
<text transform="translate(538.2,884) rotate(-90)" font-size="20.5" text-anchor="middle" fill="#000" stroke="#000" stroke-width="0.22" textLength="204.5" lengthAdjust="spacingAndGlyphs">Scar area/LV area (%)</text>
<path d="M597.2,862.6 V785.7 H645.8 V797.8" fill="none" stroke="#111" stroke-width="1.2"/>
<text transform="translate(621.5,776.4) scale(1,1.15)" x="0" y="8.97" font-size="19" text-anchor="middle" style="font-family:'Liberation Serif',serif;font-weight:normal" fill="#111" stroke="#111" stroke-width="0.2">*</text>
<circle cx="597.6" cy="876.7" r="3.6" fill="#000"/>
<circle cx="587.7" cy="884.1" r="3.6" fill="#000"/>
<circle cx="597.6" cy="887.6" r="3.6" fill="#000"/>
<circle cx="607.7" cy="887" r="3.6" fill="#000"/>
<circle cx="607.7" cy="903" r="3.6" fill="#000"/>
<circle cx="587.7" cy="907.4" r="3.6" fill="#000"/>
<circle cx="602.9" cy="916.6" r="3.6" fill="#000"/>
<circle cx="602.9" cy="926.2" r="3.6" fill="#000"/>
<circle cx="592.8" cy="930.2" r="3.6" fill="#000"/>
<circle cx="597.6" cy="943" r="3.6" fill="#000"/>
<circle cx="597.6" cy="954.3" r="3.6" fill="#000"/>
<line x1="580.4" y1="909.8" x2="615.4" y2="909.8" stroke="#000" stroke-width="3.1" stroke-linecap="butt"/>
<line x1="588" y1="903" x2="607.5" y2="903" stroke="#000" stroke-width="3.1" stroke-linecap="butt"/>
<line x1="588" y1="917" x2="607.5" y2="917" stroke="#000" stroke-width="3.1" stroke-linecap="butt"/>
<line x1="597.6" y1="903" x2="597.6" y2="917" stroke="#000" stroke-width="3.2" stroke-linecap="butt"/>
<rect x="642.65" y="805.95" width="6.9" height="6.9" fill="#000"/>
<rect x="642.65" y="819.25" width="6.9" height="6.9" fill="#000"/>
<rect x="642.65" y="849.75" width="6.9" height="6.9" fill="#000"/>
<rect x="637.55" y="862.65" width="6.9" height="6.9" fill="#000"/>
<rect x="651.85" y="862.65" width="6.9" height="6.9" fill="#000"/>
<rect x="642.65" y="882.15" width="6.9" height="6.9" fill="#000"/>
<rect x="647.15" y="891.85" width="6.9" height="6.9" fill="#000"/>
<rect x="637.65" y="897.85" width="6.9" height="6.9" fill="#000"/>
<rect x="642.55" y="918.05" width="6.9" height="6.9" fill="#000"/>
<rect x="642.55" y="935.25" width="6.9" height="6.9" fill="#000"/>
<line x1="628.1" y1="876" x2="663.6" y2="876" stroke="#000" stroke-width="3.1" stroke-linecap="butt"/>
<line x1="636" y1="864.6" x2="656" y2="864.6" stroke="#000" stroke-width="3.1" stroke-linecap="butt"/>
<line x1="636" y1="887.6" x2="656" y2="887.6" stroke="#000" stroke-width="3.1" stroke-linecap="butt"/>
<line x1="646.1" y1="864.6" x2="646.1" y2="887.6" stroke="#000" stroke-width="3.2" stroke-linecap="butt"/>
<text x="3.2" y="769.3" font-size="19.5" text-anchor="start" fill="#000"  stroke="#000" stroke-width="0.22">d</text>
<text x="206.6" y="794.7" font-size="19" text-anchor="start" fill="#000" textLength="38.6" lengthAdjust="spacingAndGlyphs"  stroke="#000" stroke-width="0.22">VEH</text>
<text x="203.7" y="906.1" font-size="19.3" text-anchor="start" fill="#000" textLength="40.3" lengthAdjust="spacingAndGlyphs"  stroke="#000" stroke-width="0.22">CSA</text>
<text x="421.5" y="896.7" font-size="16.2" text-anchor="start" fill="#000" textLength="44.8" lengthAdjust="spacingAndGlyphs"  stroke="#000" stroke-width="0.22">5 mm</text>
<line x1="421.6" y1="898.2" x2="466" y2="898.2" stroke="#000" stroke-width="0.9" stroke-linecap="butt"/>
<rect x="423" y="899.2" width="42.4" height="3.3" fill="#000"/>
<text x="421.5" y="1014.2" font-size="16.2" text-anchor="start" fill="#000" textLength="44.8" lengthAdjust="spacingAndGlyphs"  stroke="#000" stroke-width="0.22">5 mm</text>
<line x1="421.6" y1="1015.7" x2="466" y2="1015.7" stroke="#000" stroke-width="0.9" stroke-linecap="butt"/>
<rect x="423" y="1016.7" width="42.4" height="3.3" fill="#000"/>
<defs>
<filter id="tex" x="-5%" y="-5%" width="110%" height="110%" color-interpolation-filters="sRGB"><feTurbulence type="fractalNoise" baseFrequency="0.3" numOctaves="2" seed="7" result="n"/><feDisplacementMap in="SourceGraphic" in2="n" scale="2.4" xChannelSelector="R" yChannelSelector="G" result="d"/><feGaussianBlur in="d" stdDeviation="0.3"/></filter>
<filter id="soft" x="-10%" y="-10%" width="120%" height="120%" color-interpolation-filters="sRGB"><feGaussianBlur stdDeviation="0.8"/></filter>
<filter id="grainW" x="0" y="0" width="100%" height="100%" color-interpolation-filters="sRGB"><feTurbulence type="fractalNoise" baseFrequency="0.5" numOctaves="2" seed="3"/><feColorMatrix type="matrix" values="0 0 0 0 1  0 0 0 0 0.93  0 0 0 0 0.97  3.2 0 0 0 -1.45"/></filter>
<filter id="grainP" x="0" y="0" width="100%" height="100%" color-interpolation-filters="sRGB"><feTurbulence type="fractalNoise" baseFrequency="0.33" numOctaves="2" seed="23"/><feColorMatrix type="matrix" values="0 0 0 0 0.90  0 0 0 0 0.25  0 0 0 0 0.50  0 0 3.4 0 -1.45"/></filter>
<filter id="grainB" x="0" y="0" width="100%" height="100%" color-interpolation-filters="sRGB"><feTurbulence type="fractalNoise" baseFrequency="0.4" numOctaves="2" seed="11"/><feColorMatrix type="matrix" values="0 0 0 0 0.38  0 0 0 0 0.36  0 0 0 0 0.80  0 3.0 0 0 -1.5"/></filter>
<radialGradient id="rgA" cx="0.5" cy="0.5" r="0.62"><stop offset="0" stop-color="#dc2050"/><stop offset="0.45" stop-color="#e23466"/><stop offset="0.8" stop-color="#e85d8e"/><stop offset="1" stop-color="#f08fb3"/></radialGradient>
<radialGradient id="rgC" cx="0.55" cy="0.5" r="0.65"><stop offset="0" stop-color="#dc1636"/><stop offset="0.6" stop-color="#df2044"/><stop offset="1" stop-color="#e54a72"/></radialGradient>
<radialGradient id="rgB" cx="0.5" cy="0.5" r="0.65"><stop offset="0" stop-color="#e0305f"/><stop offset="1" stop-color="#e9659a"/></radialGradient>
<clipPath id="hc0"><path d="M43.9,815.5C48.7,815.9 47.8,815.3 52.0,817.3C56.3,819.2 53.6,818.8 56.7,821.4C59.8,823.9 58.3,821.9 61.4,824.9C64.5,827.8 63.1,825.8 66.1,830.1C69.0,834.4 67.6,832.4 70.1,837.7C72.7,843.0 72.5,841.2 73.6,845.9C74.8,850.5 74.6,847.8 73.6,851.7C72.7,855.6 72.9,853.7 70.7,857.6C68.6,861.4 69.2,859.9 67.2,863.4C65.3,866.9 67.6,865.1 64.9,868.1C62.2,871.0 63.7,870.2 59.1,872.2C54.4,874.1 56.3,873.9 50.9,873.9C45.4,873.9 48.5,874.1 42.7,872.2C36.9,870.2 39.2,871.8 33.4,868.1C27.5,864.4 29.7,866.5 25.2,861.1C20.7,855.6 22.1,857.6 19.9,851.7C17.8,845.9 18.4,849.4 18.8,843.5C19.1,837.7 19.0,840.0 21.1,834.2C23.2,828.4 21.9,831.1 25.2,826.0C28.5,821.0 26.9,822.3 31.0,819.0C35.1,815.7 33.2,817.3 37.4,816.1C41.7,814.9 39.0,815.1 43.9,815.5Z"/></clipPath>
<clipPath id="hc1"><path d="M137.2,811.9C144.6,811.9 141.3,812.6 147.1,813.5C152.9,814.5 149.6,812.9 154.6,814.8C159.5,816.6 158.1,815.2 162.0,819.1C165.9,823.1 163.9,821.2 166.3,826.6C168.8,832.0 167.4,829.1 169.5,835.3C171.5,841.5 171.3,839.0 172.6,845.2C173.8,851.4 174.2,848.5 173.2,853.9C172.1,859.3 172.6,856.8 169.5,861.3C166.3,865.9 168.0,864.6 163.9,867.5C159.7,870.4 160.6,867.9 157.0,870.0C153.5,872.1 157.5,871.2 153.3,873.7C149.2,876.2 150.4,875.8 144.6,877.5C138.8,879.1 142.2,879.1 135.9,878.7C129.7,878.3 132.6,878.7 126.0,876.2C119.4,873.7 122.3,875.8 116.1,871.2C109.9,866.7 112.0,868.8 107.4,862.6C102.9,856.4 104.5,859.3 102.4,852.6C100.4,846.0 101.0,849.3 101.2,842.7C101.4,836.1 101.0,839.0 103.1,832.8C105.1,826.6 103.5,829.3 107.4,824.1C111.3,818.9 109.1,820.8 114.9,817.3C120.6,813.8 117.3,815.3 124.8,813.5C132.2,811.8 129.7,811.9 137.2,811.9Z"/></clipPath>
<clipPath id="hc2"><path d="M231.3,808.9C237.6,809.1 234.2,808.5 240.2,810.2C246.1,811.9 243.5,810.6 249.0,814.0C254.5,817.4 252.4,815.2 256.7,820.3C260.9,825.4 259.0,822.9 261.7,829.2C264.5,835.6 263.2,832.2 264.9,839.4C266.6,846.6 266.8,844.0 266.8,850.8C266.8,857.6 266.6,854.6 264.9,859.7C263.2,864.8 264.9,861.8 261.7,866.0C258.6,870.3 260.5,868.6 255.4,872.4C250.3,876.2 252.9,874.5 246.5,877.5C240.2,880.4 243.1,880.0 236.3,881.3C229.6,882.6 233.0,882.3 226.2,881.3C219.4,880.2 222.8,881.1 216.0,878.1C209.2,875.1 212.2,876.8 205.9,872.4C199.5,867.9 202.1,870.7 197.0,864.8C191.9,858.8 193.6,861.8 190.6,854.6C187.7,847.4 188.5,850.4 188.1,843.2C187.7,836.0 187.2,839.4 189.4,833.0C191.5,826.7 190.2,829.6 194.4,824.1C198.7,818.6 196.5,820.5 202.1,816.5C207.6,812.5 204.6,814.4 210.9,812.1C217.3,809.7 214.3,810.6 221.1,809.5C227.9,808.5 224.9,808.7 231.3,808.9Z"/></clipPath>
<clipPath id="hc3"><path d="M323.3,806.2C329.7,806.2 327.4,805.8 334.3,806.9C341.1,808.1 337.7,807.1 343.9,809.7C350.0,812.2 347.8,810.1 352.8,814.5C357.8,818.8 355.5,816.8 359.0,822.7C362.4,828.6 360.8,825.4 363.1,832.3C365.4,839.2 365.1,836.0 365.8,843.3C366.5,850.6 366.5,847.4 365.1,854.3C363.8,861.1 365.1,857.9 361.7,863.9C358.3,869.8 360.3,867.5 354.8,872.1C349.4,876.7 352.1,874.8 345.2,877.6C338.4,880.3 341.6,879.4 334.3,880.3C326.9,881.3 330.6,881.3 323.3,880.3C316.0,879.4 319.6,880.3 312.3,877.6C305.0,874.8 308.2,876.7 301.3,872.1C294.5,867.5 297.0,869.8 291.7,863.9C286.5,857.9 288.5,861.1 285.5,854.3C282.6,847.4 283.3,850.6 282.8,843.3C282.3,836.0 282.1,839.2 284.2,832.3C286.2,825.4 284.6,828.6 289.0,822.7C293.3,816.8 291.3,818.8 297.2,814.5C303.2,810.1 300.9,812.2 306.8,809.7C312.8,807.1 309.6,808.1 315.1,806.9C320.5,805.8 316.9,806.2 323.3,806.2Z"/></clipPath>
<clipPath id="hc4"><path d="M424.3,800.9C431.1,800.2 428.2,799.7 436.0,800.2C443.8,800.7 440.4,800.2 447.7,802.4C455.0,804.6 452.1,802.9 457.9,806.8C463.8,810.7 461.3,808.5 465.2,814.1C469.1,819.7 466.9,816.5 469.6,823.6C472.3,830.6 471.8,827.5 473.2,835.3C474.7,843.0 474.7,839.6 474.0,846.9C473.2,854.2 474.0,850.8 471.1,857.2C468.1,863.5 470.1,860.6 465.2,865.9C460.3,871.3 462.8,869.3 456.5,873.2C450.1,877.1 453.5,875.6 446.2,877.6C438.9,879.5 442.3,879.1 434.6,879.1C426.8,879.1 430.7,880.0 422.9,877.6C415.1,875.2 418.5,876.6 411.2,871.8C403.9,866.9 407.3,869.3 401.0,863.0C394.7,856.7 396.8,860.1 392.2,852.8C387.6,845.5 388.8,848.9 387.1,841.1C385.4,833.3 385.9,836.7 387.1,829.4C388.3,822.1 387.1,825.0 390.8,819.2C394.4,813.4 392.7,816.3 398.1,811.9C403.4,807.5 401.0,809.2 406.8,806.1C412.7,802.9 409.7,804.1 415.6,802.4C421.4,800.7 417.5,801.7 424.3,800.9Z"/></clipPath>
<clipPath id="hc5"><path d="M46.5,929.9C52.8,929.5 49.7,929.1 54.7,930.5C59.8,931.9 57.4,930.9 61.7,934.0C66.0,937.1 64.1,935.6 67.6,939.9C71.1,944.1 69.9,941.8 72.2,946.9C74.6,951.9 73.8,949.2 74.6,955.0C75.3,960.9 75.5,958.5 74.6,964.4C73.6,970.2 74.4,967.5 71.6,972.6C68.9,977.6 70.9,975.5 66.4,979.6C61.9,983.6 64.1,982.5 58.2,984.8C52.4,987.2 54.7,987.2 48.9,986.6C43.0,986.0 46.5,985.0 40.7,983.1C34.9,981.1 37.2,983.5 31.4,980.7C25.5,978.0 27.7,979.6 23.2,974.9C18.7,970.2 20.3,972.2 17.9,966.7C15.6,961.3 16.0,964.4 16.2,958.5C16.4,952.7 17.0,955.0 18.5,949.2C20.1,943.4 18.1,945.7 20.8,941.0C23.6,936.4 21.6,938.3 26.7,935.2C31.7,932.1 29.4,933.4 36.0,931.7C42.6,929.9 40.3,930.3 46.5,929.9Z"/></clipPath>
<clipPath id="hc6"><path d="M133.5,923.3C139.4,923.1 136.3,923.3 141.7,925.0C147.2,926.8 144.4,926.2 149.9,928.5C155.3,930.8 153.4,928.9 158.1,932.0C162.7,935.1 161.0,933.2 163.9,937.9C166.8,942.5 165.3,940.2 166.8,946.0C168.4,951.9 168.2,949.1 168.6,955.4C169.0,961.6 169.2,959.3 168.0,964.7C166.8,970.2 167.6,967.1 165.1,971.7C162.5,976.4 163.9,974.1 160.4,978.7C156.9,983.4 158.5,981.5 154.6,985.7C150.7,990.0 152.6,988.9 148.7,991.6C144.8,994.3 147.2,994.3 142.9,993.9C138.6,993.5 140.5,992.7 135.9,990.4C131.2,988.1 133.9,989.2 128.9,986.9C123.8,984.6 125.8,986.5 120.7,983.4C115.6,980.3 118.0,982.2 113.7,977.6C109.4,972.9 111.4,975.2 107.8,969.4C104.3,963.5 105.3,966.3 103.2,960.0C101.0,953.8 101.0,956.5 101.4,950.7C101.8,944.9 101.8,947.2 104.3,942.5C106.9,937.9 105.1,940.8 109.0,936.7C112.9,932.6 111.0,934.0 116.0,930.3C121.1,926.6 118.4,927.9 124.2,925.6C130.0,923.3 127.7,923.5 133.5,923.3Z"/></clipPath>
<clipPath id="hc7"><path d="M223.7,916.6C229.4,916.4 226.8,916.8 232.9,918.5C239.1,920.3 236.0,919.4 242.1,921.8C248.3,924.2 245.6,923.6 251.3,925.8C257.0,928.0 254.8,924.9 259.2,928.4C263.6,931.9 262.1,930.1 264.5,936.3C266.9,942.4 266.0,939.8 266.4,946.8C266.9,953.8 266.9,951.2 265.8,957.3C264.7,963.4 264.9,960.4 263.1,965.2C261.4,970.0 263.1,966.9 260.5,971.8C257.9,976.6 258.3,974.4 255.3,979.6C252.2,984.9 254.4,983.1 251.3,987.5C248.3,991.9 250.4,990.1 246.1,992.8C241.7,995.4 243.0,995.4 238.2,995.4C233.4,995.4 236.0,995.4 231.6,992.8C227.2,990.1 229.9,990.1 225.0,987.5C220.2,984.9 222.9,987.1 217.2,984.9C211.5,982.7 213.7,984.9 208.0,980.9C202.3,977.0 204.7,979.2 200.1,973.1C195.5,966.9 197.5,969.6 194.2,962.6C190.9,955.5 191.8,958.6 190.2,952.0C188.7,945.5 188.5,948.5 189.6,942.8C190.7,937.2 190.0,939.8 193.5,935.0C197.0,930.1 195.3,932.3 200.1,928.4C204.9,924.5 202.7,926.2 208.0,923.1C213.2,920.1 210.6,921.4 215.8,919.2C221.1,917.0 218.0,916.8 223.7,916.6Z"/></clipPath>
<clipPath id="hc8"><path d="M321.9,914.7C327.8,914.7 325.1,914.5 331.3,916.1C337.6,917.6 334.5,917.6 340.7,919.4C347.0,921.2 343.9,919.9 350.2,921.4C356.4,923.0 354.6,921.0 359.6,924.1C364.5,927.2 362.5,925.5 364.9,930.8C367.4,936.2 365.8,933.5 366.9,940.2C368.1,946.9 368.1,943.8 368.3,951.0C368.5,958.1 368.7,955.0 367.6,961.7C366.5,968.4 367.6,965.3 364.9,971.1C362.2,976.9 363.1,973.8 359.6,979.2C356.0,984.6 358.2,982.3 354.2,987.2C350.2,992.2 352.4,991.0 347.5,994.0C342.5,996.9 344.8,996.0 339.4,996.0C334.0,996.0 336.7,996.0 331.3,994.0C326.0,991.9 328.7,992.6 323.3,989.9C317.9,987.2 320.6,989.0 315.2,985.9C309.9,982.8 312.5,985.4 307.2,980.5C301.8,975.6 303.8,977.4 299.1,971.1C294.4,964.9 296.2,968.4 293.1,961.7C289.9,955.0 290.8,958.1 289.7,951.0C288.6,943.8 288.6,946.5 289.7,940.2C290.8,934.0 289.9,937.1 293.1,932.2C296.2,927.2 294.9,929.5 299.1,925.5C303.4,921.4 300.9,923.2 305.8,920.1C310.8,917.0 308.5,917.8 313.9,916.1C319.3,914.3 316.1,914.7 321.9,914.7Z"/></clipPath>
<clipPath id="hc9"><path d="M428.0,913.5C434.0,913.8 431.2,914.7 437.7,915.6C444.2,916.6 440.9,915.6 447.4,916.3C453.9,917.0 451.1,915.9 457.1,917.7C463.1,919.6 460.8,917.7 465.4,921.9C470.1,926.0 468.0,924.2 471.0,930.2C474.0,936.2 472.8,933.0 474.5,939.9C476.1,946.8 475.4,943.6 475.8,951.0C476.3,958.4 477.0,955.2 475.8,962.1C474.7,969.0 474.9,965.8 472.4,971.8C469.8,977.8 471.4,974.6 468.2,980.1C465.0,985.7 466.8,983.8 462.7,988.4C458.5,993.1 460.8,991.0 455.7,994.0C450.6,997.0 453.0,996.5 447.4,997.5C441.9,998.4 444.6,998.4 439.1,996.8C433.5,995.1 436.8,994.9 430.8,992.6C424.8,990.3 427.5,992.1 421.1,989.8C414.6,987.5 417.4,989.4 411.4,985.7C405.3,982.0 407.9,984.3 403.0,978.7C398.2,973.2 400.5,976.0 396.8,969.0C393.1,962.1 394.5,965.8 391.9,957.9C389.4,950.1 389.4,952.8 389.2,945.4C388.9,938.0 388.9,941.3 391.2,935.7C393.6,930.2 392.2,933.0 396.1,928.8C400.0,924.6 397.9,926.7 403.0,923.3C408.1,919.8 405.8,921.2 411.4,918.4C416.9,915.6 414.1,916.6 419.7,914.9C425.2,913.3 422.0,913.3 428.0,913.5Z"/></clipPath>
</defs>
<g filter="url(#tex)"><g clip-path="url(#hc0)">
<g filter="url(#soft)">
<path d="M43.9,815.5C48.7,815.9 47.8,815.3 52.0,817.3C56.3,819.2 53.6,818.8 56.7,821.4C59.8,823.9 58.3,821.9 61.4,824.9C64.5,827.8 63.1,825.8 66.1,830.1C69.0,834.4 67.6,832.4 70.1,837.7C72.7,843.0 72.5,841.2 73.6,845.9C74.8,850.5 74.6,847.8 73.6,851.7C72.7,855.6 72.9,853.7 70.7,857.6C68.6,861.4 69.2,859.9 67.2,863.4C65.3,866.9 67.6,865.1 64.9,868.1C62.2,871.0 63.7,870.2 59.1,872.2C54.4,874.1 56.3,873.9 50.9,873.9C45.4,873.9 48.5,874.1 42.7,872.2C36.9,870.2 39.2,871.8 33.4,868.1C27.5,864.4 29.7,866.5 25.2,861.1C20.7,855.6 22.1,857.6 19.9,851.7C17.8,845.9 18.4,849.4 18.8,843.5C19.1,837.7 19.0,840.0 21.1,834.2C23.2,828.4 21.9,831.1 25.2,826.0C28.5,821.0 26.9,822.3 31.0,819.0C35.1,815.7 33.2,817.3 37.4,816.1C41.7,814.9 39.0,815.1 43.9,815.5Z" fill="#cf5a9c" stroke="#cf5a9c" stroke-width="3"/>
<path d="M43.9,823.1C46.8,824.3 45.2,824.7 45.6,828.4C46.0,832.1 44.5,830.7 45.0,834.2C45.6,837.7 45.0,835.8 47.4,838.9C49.7,842.0 49.9,840.0 52.0,843.5C54.2,847.0 51.5,846.3 53.8,849.4C56.1,852.5 56.1,850.2 59.1,852.9C62.0,855.6 61.8,854.1 62.6,857.6C63.3,861.1 63.3,860.5 61.4,863.4C59.4,866.3 60.6,865.1 56.7,866.3C52.8,867.5 54.0,866.1 49.7,866.9C45.4,867.7 47.4,869.8 43.9,868.6C40.4,867.5 42.1,867.1 39.2,863.4C36.3,859.7 38.0,861.8 35.1,857.6C32.2,853.3 32.6,855.2 30.4,850.5C28.3,845.9 28.7,848.6 28.7,843.5C28.7,838.5 29.1,840.0 30.4,835.4C31.8,830.7 30.6,833.0 32.8,829.5C34.9,826.0 33.2,827.0 36.9,824.9C40.6,822.7 40.9,821.9 43.9,823.1Z" fill="none" stroke="#5c6fce" stroke-width="3.6" stroke-opacity="0.9"/>
<path d="M45.6,826.6C47.6,823.1 46.4,824.5 50.9,823.7C55.4,822.9 54.0,822.1 59.1,824.3C64.1,826.4 62.4,825.6 66.1,830.1C69.8,834.6 67.5,832.4 70.1,837.7C72.8,843.0 72.7,841.2 74.0,845.9C75.3,850.5 75.1,847.8 74.0,851.7C72.9,855.6 73.4,854.8 70.7,857.6C68.1,860.3 68.8,860.3 66.1,859.9C63.3,859.5 64.9,858.9 62.6,856.4C60.2,853.9 62.0,854.6 59.1,852.3C56.1,850.0 56.1,852.3 53.8,849.4C51.5,846.5 54.2,847.0 52.0,843.5C49.9,840.0 49.7,842.0 47.4,838.9C45.0,835.8 45.6,838.3 45.0,834.2C44.5,830.1 43.7,830.1 45.6,826.6Z" fill="url(#rgA)"/>
<path d="M24.0,828.4C25.2,826.4 24.8,825.7 27.5,822.5C30.2,819.3 28.7,820.7 32.2,818.8C35.7,816.8 34.1,817.5 38.0,816.7C41.9,815.9 39.6,815.9 43.9,816.4C48.2,817.0 46.8,816.4 50.9,818.4C55.0,820.5 54.4,821.2 56.1,822.5" fill="none" stroke="#4f6bd0" stroke-width="6.0" stroke-linecap="round" stroke-opacity="0.95"/>
<path d="M22.3,831.9C21.6,834.6 20.9,834.6 20.3,840.0C19.6,845.5 19.4,842.8 20.3,848.2C21.1,853.7 20.4,851.3 22.8,856.4C25.3,861.4 26.0,861.1 27.5,863.4" fill="none" stroke="#5468cc" stroke-width="3.6" stroke-linecap="round" stroke-opacity="0.95"/>
<path d="M62.6,856.4C63.3,858.3 65.3,858.5 64.9,862.2C64.5,865.9 64.9,864.8 61.4,867.5C57.9,870.2 59.8,869.4 54.4,870.4C48.9,871.4 48.2,870.4 45.0,870.4" fill="none" stroke="#5a64c4" stroke-width="2.4" stroke-linecap="round" stroke-opacity="0.95"/>
</g>
<rect x="15.8" y="812.5" width="60.9" height="64.4" filter="url(#grainW)" opacity="0.2"/>
<rect x="15.8" y="812.5" width="60.9" height="64.4" filter="url(#grainB)" opacity="0.12"/>
<path d="M43.9,815.5C48.7,815.9 47.8,815.3 52.0,817.3C56.3,819.2 53.6,818.8 56.7,821.4C59.8,823.9 58.3,821.9 61.4,824.9C64.5,827.8 63.1,825.8 66.1,830.1C69.0,834.4 67.6,832.4 70.1,837.7C72.7,843.0 72.5,841.2 73.6,845.9C74.8,850.5 74.6,847.8 73.6,851.7C72.7,855.6 72.9,853.7 70.7,857.6C68.6,861.4 69.2,859.9 67.2,863.4C65.3,866.9 67.6,865.1 64.9,868.1C62.2,871.0 63.7,870.2 59.1,872.2C54.4,874.1 56.3,873.9 50.9,873.9C45.4,873.9 48.5,874.1 42.7,872.2C36.9,870.2 39.2,871.8 33.4,868.1C27.5,864.4 29.7,866.5 25.2,861.1C20.7,855.6 22.1,857.6 19.9,851.7C17.8,845.9 18.4,849.4 18.8,843.5C19.1,837.7 19.0,840.0 21.1,834.2C23.2,828.4 21.9,831.1 25.2,826.0C28.5,821.0 26.9,822.3 31.0,819.0C35.1,815.7 33.2,817.3 37.4,816.1C41.7,814.9 39.0,815.1 43.9,815.5Z" fill="none" stroke="#33307e" stroke-width="0.9" stroke-opacity="0.75"/>
<path d="M43.9,823.1C46.8,824.3 45.2,824.7 45.6,828.4C46.0,832.1 44.5,830.7 45.0,834.2C45.6,837.7 45.0,835.8 47.4,838.9C49.7,842.0 49.9,840.0 52.0,843.5C54.2,847.0 51.5,846.3 53.8,849.4C56.1,852.5 56.1,850.2 59.1,852.9C62.0,855.6 61.8,854.1 62.6,857.6C63.3,861.1 63.3,860.5 61.4,863.4C59.4,866.3 60.6,865.1 56.7,866.3C52.8,867.5 54.0,866.1 49.7,866.9C45.4,867.7 47.4,869.8 43.9,868.6C40.4,867.5 42.1,867.1 39.2,863.4C36.3,859.7 38.0,861.8 35.1,857.6C32.2,853.3 32.6,855.2 30.4,850.5C28.3,845.9 28.7,848.6 28.7,843.5C28.7,838.5 29.1,840.0 30.4,835.4C31.8,830.7 30.6,833.0 32.8,829.5C34.9,826.0 33.2,827.0 36.9,824.9C40.6,822.7 40.9,821.9 43.9,823.1Z" fill="#fff" stroke="#fff" stroke-width="0"/>
</g></g>
<g filter="url(#tex)"><g clip-path="url(#hc1)">
<g filter="url(#soft)">
<path d="M137.2,811.9C144.6,811.9 141.3,812.6 147.1,813.5C152.9,814.5 149.6,812.9 154.6,814.8C159.5,816.6 158.1,815.2 162.0,819.1C165.9,823.1 163.9,821.2 166.3,826.6C168.8,832.0 167.4,829.1 169.5,835.3C171.5,841.5 171.3,839.0 172.6,845.2C173.8,851.4 174.2,848.5 173.2,853.9C172.1,859.3 172.6,856.8 169.5,861.3C166.3,865.9 168.0,864.6 163.9,867.5C159.7,870.4 160.6,867.9 157.0,870.0C153.5,872.1 157.5,871.2 153.3,873.7C149.2,876.2 150.4,875.8 144.6,877.5C138.8,879.1 142.2,879.1 135.9,878.7C129.7,878.3 132.6,878.7 126.0,876.2C119.4,873.7 122.3,875.8 116.1,871.2C109.9,866.7 112.0,868.8 107.4,862.6C102.9,856.4 104.5,859.3 102.4,852.6C100.4,846.0 101.0,849.3 101.2,842.7C101.4,836.1 101.0,839.0 103.1,832.8C105.1,826.6 103.5,829.3 107.4,824.1C111.3,818.9 109.1,820.8 114.9,817.3C120.6,813.8 117.3,815.3 124.8,813.5C132.2,811.8 129.7,811.9 137.2,811.9Z" fill="#d9609f" stroke="#d9609f" stroke-width="3"/>
<path d="M121.7,821.6C125.0,820.4 123.5,821.0 126.0,822.9C128.5,824.7 128.3,824.3 129.1,827.2C130.0,830.1 127.5,828.9 128.5,831.5C129.5,834.2 130.6,832.4 132.2,835.3C133.9,838.2 131.4,836.9 133.5,840.2C135.5,843.5 136.2,841.7 138.4,845.2C140.7,848.7 137.8,847.5 140.3,850.8C142.8,854.1 142.4,852.4 145.9,855.1C149.4,857.8 148.6,855.5 150.8,858.8C153.1,862.1 153.1,861.1 152.7,865.0C152.3,869.0 152.3,867.7 149.6,870.6C146.9,873.5 148.8,872.7 144.6,873.7C140.5,874.8 141.7,875.0 137.2,873.7C132.6,872.5 133.5,873.3 131.0,870.0C128.5,866.7 131.8,866.9 129.7,863.8C127.7,860.7 128.1,860.7 124.8,860.7C121.5,860.7 122.7,864.4 119.8,863.8C116.9,863.2 118.6,862.6 116.1,858.8C113.6,855.1 114.4,857.2 112.4,852.6C110.3,848.1 110.3,850.2 109.9,845.2C109.5,840.2 109.9,842.3 111.1,837.7C112.4,833.2 112.0,835.3 113.6,831.5C115.3,827.8 113.4,829.9 116.1,826.6C118.8,823.3 118.4,822.9 121.7,821.6Z" fill="none" stroke="#4d6fd2" stroke-width="4.0" stroke-opacity="0.9"/>
<path d="M135.9,813.5C141.1,811.7 140.9,813.1 147.1,813.5C153.3,814.0 149.6,812.9 154.6,814.8C159.5,816.6 158.1,815.2 162.0,819.1C165.9,823.1 163.9,821.2 166.3,826.6C168.8,832.0 167.3,829.1 169.5,835.3C171.6,841.5 171.6,839.0 172.9,845.2C174.2,851.4 174.6,848.5 173.4,853.9C172.3,859.3 172.6,856.8 169.5,861.3C166.3,865.9 168.4,865.5 163.9,867.5C159.3,869.6 159.4,870.2 155.8,867.5C152.2,864.8 156.4,863.6 153.1,859.5C149.8,855.3 150.1,858.0 145.9,855.1C141.6,852.2 142.8,854.1 140.3,850.8C137.8,847.5 140.7,848.7 138.4,845.2C136.2,841.7 135.5,843.5 133.5,840.2C131.4,836.9 133.9,838.2 132.2,835.3C130.6,832.4 129.5,834.4 128.5,831.5C127.5,828.6 128.1,830.7 129.1,826.6C130.2,822.4 129.3,823.5 131.6,819.1C133.9,814.8 130.8,815.4 135.9,813.5Z" fill="url(#rgA)"/>
<path d="M135.9,812.9C132.2,813.4 131.8,812.7 124.8,814.4C117.7,816.2 120.5,814.7 114.9,818.1C109.2,821.6 111.6,819.8 107.9,824.8C104.2,829.9 105.6,827.4 103.7,833.4C101.8,839.4 102.3,836.3 102.2,842.7C102.1,849.1 101.5,846.2 103.4,852.6C105.4,859.1 103.8,856.1 108.2,862.1C112.5,868.0 110.6,866.1 116.6,870.5C122.6,874.9 119.8,872.8 126.3,875.2C132.7,877.6 129.8,877.3 135.9,877.7C142.1,878.1 139.0,878.1 144.6,876.5C150.3,874.8 150.1,874.0 152.8,872.7" fill="none" stroke="#4d6fd2" stroke-width="1.3" stroke-linecap="round" stroke-opacity="0.95"/>
<path d="M152.3,857.6C153.1,859.3 153.0,858.8 154.6,862.6C156.1,866.3 156.2,866.7 157.0,868.8" fill="none" stroke="#5064c8" stroke-width="2.6" stroke-linecap="round" stroke-opacity="0.95"/>
<path d="M126.0,818.5C128.1,819.5 128.9,819.5 132.2,821.6C135.5,823.7 134.7,823.7 135.9,824.7" fill="none" stroke="#6670cc" stroke-width="2.4" stroke-linecap="round" stroke-opacity="0.95"/>
</g>
<rect x="98.2" y="808.9" width="78.0" height="72.8" filter="url(#grainW)" opacity="0.2"/>
<rect x="98.2" y="808.9" width="78.0" height="72.8" filter="url(#grainB)" opacity="0.12"/>
<path d="M137.2,811.9C144.6,811.9 141.3,812.6 147.1,813.5C152.9,814.5 149.6,812.9 154.6,814.8C159.5,816.6 158.1,815.2 162.0,819.1C165.9,823.1 163.9,821.2 166.3,826.6C168.8,832.0 167.4,829.1 169.5,835.3C171.5,841.5 171.3,839.0 172.6,845.2C173.8,851.4 174.2,848.5 173.2,853.9C172.1,859.3 172.6,856.8 169.5,861.3C166.3,865.9 168.0,864.6 163.9,867.5C159.7,870.4 160.6,867.9 157.0,870.0C153.5,872.1 157.5,871.2 153.3,873.7C149.2,876.2 150.4,875.8 144.6,877.5C138.8,879.1 142.2,879.1 135.9,878.7C129.7,878.3 132.6,878.7 126.0,876.2C119.4,873.7 122.3,875.8 116.1,871.2C109.9,866.7 112.0,868.8 107.4,862.6C102.9,856.4 104.5,859.3 102.4,852.6C100.4,846.0 101.0,849.3 101.2,842.7C101.4,836.1 101.0,839.0 103.1,832.8C105.1,826.6 103.5,829.3 107.4,824.1C111.3,818.9 109.1,820.8 114.9,817.3C120.6,813.8 117.3,815.3 124.8,813.5C132.2,811.8 129.7,811.9 137.2,811.9Z" fill="none" stroke="#33307e" stroke-width="0.9" stroke-opacity="0.75"/>
<path d="M121.7,821.6C125.0,820.4 123.5,821.0 126.0,822.9C128.5,824.7 128.3,824.3 129.1,827.2C130.0,830.1 127.5,828.9 128.5,831.5C129.5,834.2 130.6,832.4 132.2,835.3C133.9,838.2 131.4,836.9 133.5,840.2C135.5,843.5 136.2,841.7 138.4,845.2C140.7,848.7 137.8,847.5 140.3,850.8C142.8,854.1 142.4,852.4 145.9,855.1C149.4,857.8 148.6,855.5 150.8,858.8C153.1,862.1 153.1,861.1 152.7,865.0C152.3,869.0 152.3,867.7 149.6,870.6C146.9,873.5 148.8,872.7 144.6,873.7C140.5,874.8 141.7,875.0 137.2,873.7C132.6,872.5 133.5,873.3 131.0,870.0C128.5,866.7 131.8,866.9 129.7,863.8C127.7,860.7 128.1,860.7 124.8,860.7C121.5,860.7 122.7,864.4 119.8,863.8C116.9,863.2 118.6,862.6 116.1,858.8C113.6,855.1 114.4,857.2 112.4,852.6C110.3,848.1 110.3,850.2 109.9,845.2C109.5,840.2 109.9,842.3 111.1,837.7C112.4,833.2 112.0,835.3 113.6,831.5C115.3,827.8 113.4,829.9 116.1,826.6C118.8,823.3 118.4,822.9 121.7,821.6Z" fill="#fff" stroke="#fff" stroke-width="0"/>
<path d="M150.8,816.6C152.5,819.5 152.3,819.5 155.8,825.3C159.3,831.1 157.9,827.8 161.4,834.0C164.9,840.2 164.7,840.6 166.3,843.9" fill="none" stroke="#f9e3ec" stroke-width="2.3" stroke-linecap="round"/>
</g></g>
<g filter="url(#tex)"><g clip-path="url(#hc2)">
<g filter="url(#soft)">
<path d="M231.3,808.9C237.6,809.1 234.2,808.5 240.2,810.2C246.1,811.9 243.5,810.6 249.0,814.0C254.5,817.4 252.4,815.2 256.7,820.3C260.9,825.4 259.0,822.9 261.7,829.2C264.5,835.6 263.2,832.2 264.9,839.4C266.6,846.6 266.8,844.0 266.8,850.8C266.8,857.6 266.6,854.6 264.9,859.7C263.2,864.8 264.9,861.8 261.7,866.0C258.6,870.3 260.5,868.6 255.4,872.4C250.3,876.2 252.9,874.5 246.5,877.5C240.2,880.4 243.1,880.0 236.3,881.3C229.6,882.6 233.0,882.3 226.2,881.3C219.4,880.2 222.8,881.1 216.0,878.1C209.2,875.1 212.2,876.8 205.9,872.4C199.5,867.9 202.1,870.7 197.0,864.8C191.9,858.8 193.6,861.8 190.6,854.6C187.7,847.4 188.5,850.4 188.1,843.2C187.7,836.0 187.2,839.4 189.4,833.0C191.5,826.7 190.2,829.6 194.4,824.1C198.7,818.6 196.5,820.5 202.1,816.5C207.6,812.5 204.6,814.4 210.9,812.1C217.3,809.7 214.3,810.6 221.1,809.5C227.9,808.5 224.9,808.7 231.3,808.9Z" fill="#dc5c98" stroke="#dc5c98" stroke-width="3"/>
<path d="M204.6,822.9C207.1,823.3 206.7,822.6 208.4,824.8C210.1,826.9 207.6,826.5 209.7,829.2C211.8,832.0 211.4,830.9 214.8,833.0C218.1,835.1 216.9,832.6 219.8,835.6C222.8,838.5 220.7,838.1 223.6,841.9C226.6,845.7 226.4,843.6 228.7,847.0C231.0,850.4 228.1,849.1 230.6,852.1C233.2,855.0 233.6,852.9 236.3,855.9C239.1,858.8 236.3,858.4 238.9,861.0C241.4,863.5 241.8,861.0 244.0,863.5C246.1,866.0 246.1,865.4 245.2,868.6C244.4,871.8 244.8,870.7 241.4,873.0C238.0,875.4 239.7,875.6 235.1,875.6C230.4,875.6 230.4,875.8 227.5,873.0C224.5,870.3 227.9,870.9 226.2,867.3C224.5,863.7 225.8,864.3 222.4,862.2C219.0,860.1 219.4,859.7 216.0,861.0C212.6,862.2 214.5,866.0 212.2,866.0C209.9,866.0 211.6,863.5 209.0,861.0C206.5,858.4 207.3,861.0 204.6,858.4C201.8,855.9 201.6,857.2 200.8,853.3C199.9,849.5 202.9,850.4 202.1,847.0C201.2,843.6 200.4,846.6 198.2,843.2C196.1,839.8 195.7,840.6 195.7,836.8C195.7,833.0 197.8,835.1 198.2,831.8C198.7,828.4 196.1,829.4 197.0,826.7C197.8,823.9 198.2,824.8 200.8,823.5C203.3,822.2 202.1,822.4 204.6,822.9Z" fill="none" stroke="#4d6fd2" stroke-width="4.0" stroke-opacity="0.9"/>
<path d="M219.8,809.9C225.3,807.4 224.5,808.8 231.3,808.9C238.0,809.0 234.2,808.5 240.2,810.2C246.1,811.9 243.5,810.6 249.0,814.0C254.5,817.4 252.4,815.2 256.7,820.3C260.9,825.4 258.9,822.9 261.7,829.2C264.6,835.6 263.4,832.2 265.2,839.4C266.9,846.6 267.1,844.0 267.1,850.8C267.1,857.6 266.9,854.6 265.2,859.7C263.4,864.8 265.0,861.8 261.7,866.0C258.5,870.3 259.6,870.7 255.4,872.4C251.2,874.1 251.8,874.9 249.0,871.1C246.3,867.3 250.5,864.3 247.1,861.0C243.7,857.6 242.5,862.7 238.9,861.0C235.3,859.3 239.1,858.8 236.3,855.9C233.6,852.9 233.2,855.0 230.6,852.1C228.1,849.1 231.0,850.4 228.7,847.0C226.4,843.6 226.6,845.7 223.6,841.9C220.7,838.1 222.8,838.5 219.8,835.6C216.9,832.6 217.9,835.1 214.8,833.0C211.6,830.9 211.8,832.6 210.3,829.2C208.8,825.8 208.8,827.1 210.3,822.9C211.8,818.6 211.6,820.8 214.8,816.5C217.9,812.2 214.3,812.4 219.8,809.9Z" fill="url(#rgA)"/>
<path d="M213.5,864.1C214.3,860.7 214.3,861.6 217.3,861.0C220.3,860.3 219.4,860.1 222.4,862.2C225.3,864.3 224.5,863.7 226.2,867.3C227.9,870.9 229.1,870.5 227.5,873.0C225.8,875.6 225.3,875.6 221.1,874.9C216.9,874.3 217.3,874.7 214.8,871.1C212.2,867.5 212.6,867.5 213.5,864.1Z" fill="url(#rgB)"/>
<path d="M221.1,819.1C218.6,817.8 219.0,815.2 213.5,815.2C208.0,815.2 209.9,815.5 204.6,819.1C199.3,822.6 201.2,820.7 197.6,826.0C194.0,831.3 195.3,829.0 193.8,834.9C192.3,840.9 192.6,837.7 193.2,843.8C193.7,850.0 192.9,847.2 195.4,853.3C198.0,859.5 196.5,856.9 200.8,862.2C205.1,867.5 202.9,865.0 208.4,869.2C213.9,873.4 211.4,872.1 217.3,874.9C223.2,877.8 219.8,876.9 226.2,877.7C232.5,878.6 230.4,878.6 236.3,877.5C242.3,876.3 241.4,875.4 244.0,874.3" fill="none" stroke="#4d6fd2" stroke-width="2.0" stroke-linecap="round" stroke-opacity="0.95"/>
<path d="M246.5,859.7C247.1,861.4 248.2,861.0 248.4,864.8C248.6,868.6 249.0,867.5 247.1,871.1C245.2,874.7 244.2,874.1 242.7,875.6" fill="none" stroke="#5064c8" stroke-width="3.0" stroke-linecap="round" stroke-opacity="0.95"/>
</g>
<rect x="185.1" y="805.9" width="84.7" height="78.4" filter="url(#grainW)" opacity="0.2"/>
<rect x="185.1" y="805.9" width="84.7" height="78.4" filter="url(#grainB)" opacity="0.12"/>
<path d="M231.3,808.9C237.6,809.1 234.2,808.5 240.2,810.2C246.1,811.9 243.5,810.6 249.0,814.0C254.5,817.4 252.4,815.2 256.7,820.3C260.9,825.4 259.0,822.9 261.7,829.2C264.5,835.6 263.2,832.2 264.9,839.4C266.6,846.6 266.8,844.0 266.8,850.8C266.8,857.6 266.6,854.6 264.9,859.7C263.2,864.8 264.9,861.8 261.7,866.0C258.6,870.3 260.5,868.6 255.4,872.4C250.3,876.2 252.9,874.5 246.5,877.5C240.2,880.4 243.1,880.0 236.3,881.3C229.6,882.6 233.0,882.3 226.2,881.3C219.4,880.2 222.8,881.1 216.0,878.1C209.2,875.1 212.2,876.8 205.9,872.4C199.5,867.9 202.1,870.7 197.0,864.8C191.9,858.8 193.6,861.8 190.6,854.6C187.7,847.4 188.5,850.4 188.1,843.2C187.7,836.0 187.2,839.4 189.4,833.0C191.5,826.7 190.2,829.6 194.4,824.1C198.7,818.6 196.5,820.5 202.1,816.5C207.6,812.5 204.6,814.4 210.9,812.1C217.3,809.7 214.3,810.6 221.1,809.5C227.9,808.5 224.9,808.7 231.3,808.9Z" fill="none" stroke="#33307e" stroke-width="0.9" stroke-opacity="0.75"/>
<path d="M204.6,822.9C207.1,823.3 206.7,822.6 208.4,824.8C210.1,826.9 207.6,826.5 209.7,829.2C211.8,832.0 211.4,830.9 214.8,833.0C218.1,835.1 216.9,832.6 219.8,835.6C222.8,838.5 220.7,838.1 223.6,841.9C226.6,845.7 226.4,843.6 228.7,847.0C231.0,850.4 228.1,849.1 230.6,852.1C233.2,855.0 233.6,852.9 236.3,855.9C239.1,858.8 236.3,858.4 238.9,861.0C241.4,863.5 241.8,861.0 244.0,863.5C246.1,866.0 246.1,865.4 245.2,868.6C244.4,871.8 244.8,870.7 241.4,873.0C238.0,875.4 239.7,875.6 235.1,875.6C230.4,875.6 230.4,875.8 227.5,873.0C224.5,870.3 227.9,870.9 226.2,867.3C224.5,863.7 225.8,864.3 222.4,862.2C219.0,860.1 219.4,859.7 216.0,861.0C212.6,862.2 214.5,866.0 212.2,866.0C209.9,866.0 211.6,863.5 209.0,861.0C206.5,858.4 207.3,861.0 204.6,858.4C201.8,855.9 201.6,857.2 200.8,853.3C199.9,849.5 202.9,850.4 202.1,847.0C201.2,843.6 200.4,846.6 198.2,843.2C196.1,839.8 195.7,840.6 195.7,836.8C195.7,833.0 197.8,835.1 198.2,831.8C198.7,828.4 196.1,829.4 197.0,826.7C197.8,823.9 198.2,824.8 200.8,823.5C203.3,822.2 202.1,822.4 204.6,822.9Z" fill="#fff" stroke="#fff" stroke-width="0"/>
<path d="M233.8,813.3C236.3,815.7 236.8,816.1 241.4,820.3C246.1,824.6 245.7,824.1 247.8,826.0" fill="none" stroke="#f8dbe8" stroke-width="1.6" stroke-linecap="round"/>
<path d="M247.1,825.4C248.8,827.3 249.3,827.1 252.2,831.1C255.2,835.1 254.8,835.3 256.0,837.5" fill="none" stroke="#fbeaf2" stroke-width="3.8" stroke-linecap="round"/>
<path d="M252.2,850.2C252.6,852.1 253.1,854.0 253.5,855.9" fill="none" stroke="#fbeaf2" stroke-width="1.0" stroke-linecap="round"/>
</g></g>
<g filter="url(#tex)"><g clip-path="url(#hc3)">
<g filter="url(#soft)">
<path d="M323.3,806.2C329.7,806.2 327.4,805.8 334.3,806.9C341.1,808.1 337.7,807.1 343.9,809.7C350.0,812.2 347.8,810.1 352.8,814.5C357.8,818.8 355.5,816.8 359.0,822.7C362.4,828.6 360.8,825.4 363.1,832.3C365.4,839.2 365.1,836.0 365.8,843.3C366.5,850.6 366.5,847.4 365.1,854.3C363.8,861.1 365.1,857.9 361.7,863.9C358.3,869.8 360.3,867.5 354.8,872.1C349.4,876.7 352.1,874.8 345.2,877.6C338.4,880.3 341.6,879.4 334.3,880.3C326.9,881.3 330.6,881.3 323.3,880.3C316.0,879.4 319.6,880.3 312.3,877.6C305.0,874.8 308.2,876.7 301.3,872.1C294.5,867.5 297.0,869.8 291.7,863.9C286.5,857.9 288.5,861.1 285.5,854.3C282.6,847.4 283.3,850.6 282.8,843.3C282.3,836.0 282.1,839.2 284.2,832.3C286.2,825.4 284.6,828.6 289.0,822.7C293.3,816.8 291.3,818.8 297.2,814.5C303.2,810.1 300.9,812.2 306.8,809.7C312.8,807.1 309.6,808.1 315.1,806.9C320.5,805.8 316.9,806.2 323.3,806.2Z" fill="#df5a94" stroke="#df5a94" stroke-width="3"/>
<path d="M304.1,818.6C306.8,818.8 306.1,820.0 306.8,823.4C307.5,826.8 304.8,825.9 306.1,828.9C307.5,831.9 307.5,829.3 310.9,832.3C314.4,835.3 313.2,834.1 316.4,837.8C319.6,841.5 317.3,840.1 320.5,843.3C323.7,846.5 323.3,843.7 326.0,847.4C328.8,851.1 326.5,850.1 328.8,854.3C331.1,858.4 330.8,855.6 332.9,859.8C335.0,863.9 335.4,862.3 335.0,866.6C334.5,871.0 334.5,870.0 331.5,872.8C328.5,875.5 329.0,875.5 326.0,874.8C323.1,874.2 322.8,874.4 322.6,870.7C322.4,867.1 324.7,868.0 325.3,863.9C326.0,859.8 326.7,860.9 324.7,858.4C322.6,855.9 322.4,855.6 319.2,856.3C316.0,857.0 318.7,859.3 315.1,860.4C311.4,861.6 311.9,859.1 308.2,859.8C304.5,860.4 307.3,863.4 304.1,862.5C300.9,861.6 302.2,860.4 298.6,857.0C294.9,853.6 293.1,855.9 293.1,852.2C293.1,848.5 298.1,849.5 298.6,846.0C299.0,842.6 295.4,845.1 294.5,841.9C293.6,838.7 296.3,840.1 295.8,836.4C295.4,832.8 293.1,834.1 293.1,830.9C293.1,827.7 294.0,829.6 295.8,826.8C297.7,824.1 295.8,825.4 298.6,822.7C301.3,820.0 301.3,818.4 304.1,818.6Z" fill="none" stroke="#4d6fd2" stroke-width="3.6" stroke-opacity="0.9"/>
<path d="M312.3,807.6C317.3,805.3 316.0,806.5 323.3,806.2C330.6,806.0 327.4,805.8 334.3,806.9C341.1,808.1 337.7,807.1 343.9,809.7C350.0,812.2 347.8,810.1 352.8,814.5C357.8,818.8 355.5,816.8 359.0,822.7C362.4,828.6 360.7,825.4 363.1,832.3C365.5,839.2 365.3,836.0 366.1,843.3C366.9,850.6 366.9,847.4 365.4,854.3C364.0,861.1 365.2,857.9 361.7,863.9C358.2,869.8 360.3,867.5 354.8,872.1C349.4,876.7 350.7,876.7 345.2,877.6C339.8,878.5 341.6,878.5 338.4,874.8C335.2,871.2 337.5,871.6 335.6,866.6C333.8,861.6 335.2,863.9 332.9,859.8C330.6,855.6 331.1,858.4 328.8,854.3C326.5,850.1 328.8,851.1 326.0,847.4C323.3,843.7 323.7,846.5 320.5,843.3C317.3,840.1 319.6,841.5 316.4,837.8C313.2,834.1 314.4,835.3 310.9,832.3C307.5,829.3 307.5,832.5 306.1,828.9C304.8,825.2 306.1,826.6 306.8,821.3C307.5,816.1 306.4,817.7 308.2,813.1C310.0,808.5 307.3,809.9 312.3,807.6Z" fill="url(#rgA)"/>
<path d="M304.1,862.5C304.1,858.4 304.5,860.4 308.2,859.8C311.9,859.1 311.4,861.6 315.1,860.4C318.7,859.3 316.0,857.0 319.2,856.3C322.4,855.6 322.6,855.9 324.7,858.4C326.7,860.9 326.0,859.8 325.3,863.9C324.7,868.0 322.4,866.4 322.6,870.7C322.8,875.1 328.1,874.6 326.0,876.9C324.0,879.2 322.4,879.2 316.4,877.6C310.5,876.0 312.3,877.1 308.2,872.1C304.1,867.1 304.1,866.6 304.1,862.5Z" fill="url(#rgB)"/>
<path d="M317.1,819.3C314.8,817.9 315.3,815.8 310.2,815.2C305.2,814.5 307.3,814.2 302.0,817.2C296.8,820.2 298.4,818.8 294.5,824.1C290.5,829.3 291.9,826.6 290.1,833.0C288.2,839.4 288.5,836.4 289.0,843.3C289.4,850.1 288.7,847.3 291.4,853.6C294.2,859.9 292.5,857.0 297.2,862.2C301.9,867.5 299.5,865.4 305.4,869.4C311.4,873.3 308.6,871.6 315.1,874.2C321.5,876.7 318.5,876.2 324.7,876.9C330.8,877.6 328.3,877.6 333.6,876.2C338.8,874.8 338.2,873.9 340.4,872.8" fill="none" stroke="#4169d6" stroke-width="2.2" stroke-linecap="round" stroke-opacity="0.95"/>
</g>
<rect x="279.8" y="803.2" width="89.0" height="80.1" filter="url(#grainW)" opacity="0.2"/>
<rect x="279.8" y="803.2" width="89.0" height="80.1" filter="url(#grainB)" opacity="0.12"/>
<path d="M323.3,806.2C329.7,806.2 327.4,805.8 334.3,806.9C341.1,808.1 337.7,807.1 343.9,809.7C350.0,812.2 347.8,810.1 352.8,814.5C357.8,818.8 355.5,816.8 359.0,822.7C362.4,828.6 360.8,825.4 363.1,832.3C365.4,839.2 365.1,836.0 365.8,843.3C366.5,850.6 366.5,847.4 365.1,854.3C363.8,861.1 365.1,857.9 361.7,863.9C358.3,869.8 360.3,867.5 354.8,872.1C349.4,876.7 352.1,874.8 345.2,877.6C338.4,880.3 341.6,879.4 334.3,880.3C326.9,881.3 330.6,881.3 323.3,880.3C316.0,879.4 319.6,880.3 312.3,877.6C305.0,874.8 308.2,876.7 301.3,872.1C294.5,867.5 297.0,869.8 291.7,863.9C286.5,857.9 288.5,861.1 285.5,854.3C282.6,847.4 283.3,850.6 282.8,843.3C282.3,836.0 282.1,839.2 284.2,832.3C286.2,825.4 284.6,828.6 289.0,822.7C293.3,816.8 291.3,818.8 297.2,814.5C303.2,810.1 300.9,812.2 306.8,809.7C312.8,807.1 309.6,808.1 315.1,806.9C320.5,805.8 316.9,806.2 323.3,806.2Z" fill="none" stroke="#33307e" stroke-width="0.9" stroke-opacity="0.75"/>
<path d="M304.1,818.6C306.8,818.8 306.1,820.0 306.8,823.4C307.5,826.8 304.8,825.9 306.1,828.9C307.5,831.9 307.5,829.3 310.9,832.3C314.4,835.3 313.2,834.1 316.4,837.8C319.6,841.5 317.3,840.1 320.5,843.3C323.7,846.5 323.3,843.7 326.0,847.4C328.8,851.1 326.5,850.1 328.8,854.3C331.1,858.4 330.8,855.6 332.9,859.8C335.0,863.9 335.4,862.3 335.0,866.6C334.5,871.0 334.5,870.0 331.5,872.8C328.5,875.5 329.0,875.5 326.0,874.8C323.1,874.2 322.8,874.4 322.6,870.7C322.4,867.1 324.7,868.0 325.3,863.9C326.0,859.8 326.7,860.9 324.7,858.4C322.6,855.9 322.4,855.6 319.2,856.3C316.0,857.0 318.7,859.3 315.1,860.4C311.4,861.6 311.9,859.1 308.2,859.8C304.5,860.4 307.3,863.4 304.1,862.5C300.9,861.6 302.2,860.4 298.6,857.0C294.9,853.6 293.1,855.9 293.1,852.2C293.1,848.5 298.1,849.5 298.6,846.0C299.0,842.6 295.4,845.1 294.5,841.9C293.6,838.7 296.3,840.1 295.8,836.4C295.4,832.8 293.1,834.1 293.1,830.9C293.1,827.7 294.0,829.6 295.8,826.8C297.7,824.1 295.8,825.4 298.6,822.7C301.3,820.0 301.3,818.4 304.1,818.6Z" fill="#fff" stroke="#fff" stroke-width="0"/>
<path d="M342.5,815.8C344.3,819.0 344.6,818.6 348.0,825.4C351.4,832.3 350.3,829.1 352.8,836.4C355.3,843.7 354.6,843.7 355.5,847.4" fill="none" stroke="#f6d4e2" stroke-width="3.0" stroke-linecap="round"/>
<path d="M348.7,852.9C349.4,855.2 350.0,857.5 350.7,859.8" fill="none" stroke="#fff" stroke-width="1.2" stroke-linecap="round"/>
</g></g>
<g filter="url(#tex)"><g clip-path="url(#hc4)">
<g filter="url(#soft)">
<path d="M424.3,800.9C431.1,800.2 428.2,799.7 436.0,800.2C443.8,800.7 440.4,800.2 447.7,802.4C455.0,804.6 452.1,802.9 457.9,806.8C463.8,810.7 461.3,808.5 465.2,814.1C469.1,819.7 466.9,816.5 469.6,823.6C472.3,830.6 471.8,827.5 473.2,835.3C474.7,843.0 474.7,839.6 474.0,846.9C473.2,854.2 474.0,850.8 471.1,857.2C468.1,863.5 470.1,860.6 465.2,865.9C460.3,871.3 462.8,869.3 456.5,873.2C450.1,877.1 453.5,875.6 446.2,877.6C438.9,879.5 442.3,879.1 434.6,879.1C426.8,879.1 430.7,880.0 422.9,877.6C415.1,875.2 418.5,876.6 411.2,871.8C403.9,866.9 407.3,869.3 401.0,863.0C394.7,856.7 396.8,860.1 392.2,852.8C387.6,845.5 388.8,848.9 387.1,841.1C385.4,833.3 385.9,836.7 387.1,829.4C388.3,822.1 387.1,825.0 390.8,819.2C394.4,813.4 392.7,816.3 398.1,811.9C403.4,807.5 401.0,809.2 406.8,806.1C412.7,802.9 409.7,804.1 415.6,802.4C421.4,800.7 417.5,801.7 424.3,800.9Z" fill="#e0588f" stroke="#e0588f" stroke-width="3"/>
<path d="M409.0,814.8C411.7,815.8 411.4,816.8 411.9,820.7C412.4,824.5 409.7,822.6 410.5,826.5C411.2,830.4 410.5,828.9 414.1,832.3C417.8,835.7 416.5,833.8 421.4,836.7C426.3,839.6 425.3,837.2 428.7,841.1C432.1,845.0 429.2,844.0 431.6,848.4C434.1,852.8 433.8,849.9 436.0,854.2C438.2,858.6 438.7,856.7 438.2,861.5C437.7,866.4 437.0,865.7 434.6,868.8C432.1,872.0 432.9,872.0 430.9,871.0C429.0,870.0 428.2,870.0 428.7,865.9C429.2,861.8 431.6,863.0 432.4,858.6C433.1,854.2 434.1,855.2 430.9,852.8C427.7,850.3 427.5,850.3 422.9,851.3C418.3,852.3 420.2,852.3 417.0,855.7C413.9,859.1 416.5,860.6 413.4,861.5C410.2,862.5 411.2,861.0 407.5,858.6C403.9,856.2 405.6,857.6 402.4,854.2C399.3,850.8 400.0,852.3 398.1,848.4C396.1,844.5 397.8,846.4 396.6,842.6C395.4,838.7 393.4,840.1 394.4,836.7C395.4,833.3 399.0,835.3 399.5,832.3C400.0,829.4 395.4,830.9 395.9,828.0C396.4,825.0 398.3,827.0 401.0,823.6C403.7,820.2 401.2,820.7 403.9,817.7C406.6,814.8 406.3,813.8 409.0,814.8Z" fill="none" stroke="#4d6fd2" stroke-width="3.6" stroke-opacity="0.9"/>
<path d="M414.1,803.1C417.8,800.0 417.0,801.9 424.3,800.9C431.6,800.0 428.2,799.7 436.0,800.2C443.8,800.7 440.4,800.2 447.7,802.4C455.0,804.6 452.1,802.9 457.9,806.8C463.8,810.7 461.3,808.5 465.2,814.1C469.1,819.7 466.8,816.5 469.6,823.6C472.4,830.6 472.0,827.5 473.5,835.3C475.1,843.0 475.1,839.6 474.3,846.9C473.4,854.2 474.1,850.8 471.1,857.2C468.0,863.5 470.1,860.6 465.2,865.9C460.3,871.3 462.8,869.2 456.5,873.2C450.1,877.2 452.6,876.9 446.2,877.9C439.9,878.9 440.2,881.6 437.5,876.1C434.8,870.7 438.7,868.8 438.2,861.5C437.7,854.2 438.2,858.6 436.0,854.2C433.8,849.9 434.1,852.8 431.6,848.4C429.2,844.0 432.1,845.0 428.7,841.1C425.3,837.2 426.3,839.6 421.4,836.7C416.5,833.8 417.8,835.7 414.1,832.3C410.5,828.9 411.2,830.9 410.5,826.5C409.7,822.1 411.0,824.5 411.9,819.2C412.9,813.8 412.7,815.8 413.4,810.4C414.1,805.1 410.5,806.3 414.1,803.1Z" fill="url(#rgA)"/>
<path d="M413.4,861.5C412.4,856.2 413.9,859.1 417.0,855.7C420.2,852.3 418.3,852.3 422.9,851.3C427.5,850.3 427.7,850.3 430.9,852.8C434.1,855.2 433.1,854.2 432.4,858.6C431.6,863.0 429.2,861.5 428.7,865.9C428.2,870.3 433.8,869.8 430.9,871.8C428.0,873.7 425.8,875.2 420.0,871.8C414.1,868.3 414.4,866.9 413.4,861.5Z" fill="url(#rgB)"/>
<path d="M396.6,842.6C398.1,839.4 399.5,839.3 403.9,839.3C408.3,839.3 407.9,839.5 409.7,842.6C411.6,845.6 412.9,846.4 409.4,848.4C406.0,850.4 403.8,850.6 399.5,848.7C395.2,846.7 395.1,845.7 396.6,842.6Z" fill="url(#rgB)"/>
<path d="M417.0,817.7C416.0,815.3 417.2,813.1 413.8,810.4C410.4,807.8 411.6,808.2 406.8,809.7C402.0,811.2 403.7,810.7 399.5,814.8C395.4,819.0 397.0,816.8 394.4,822.1C391.8,827.5 392.5,824.5 391.6,830.9C390.8,837.2 390.3,834.0 391.9,841.1C393.6,848.2 392.4,845.4 396.6,852.0C400.8,858.7 398.8,855.4 404.6,861.1C410.5,866.8 407.5,864.6 414.1,869.1C420.7,873.6 417.5,872.2 424.3,874.7C431.1,877.1 428.2,876.0 434.6,876.4C440.9,876.8 440.4,876.0 443.3,875.8" fill="none" stroke="#4169d6" stroke-width="2.2" stroke-linecap="round" stroke-opacity="0.95"/>
</g>
<rect x="384.1" y="797.2" width="92.9" height="84.8" filter="url(#grainW)" opacity="0.2"/>
<rect x="384.1" y="797.2" width="92.9" height="84.8" filter="url(#grainB)" opacity="0.12"/>
<path d="M424.3,800.9C431.1,800.2 428.2,799.7 436.0,800.2C443.8,800.7 440.4,800.2 447.7,802.4C455.0,804.6 452.1,802.9 457.9,806.8C463.8,810.7 461.3,808.5 465.2,814.1C469.1,819.7 466.9,816.5 469.6,823.6C472.3,830.6 471.8,827.5 473.2,835.3C474.7,843.0 474.7,839.6 474.0,846.9C473.2,854.2 474.0,850.8 471.1,857.2C468.1,863.5 470.1,860.6 465.2,865.9C460.3,871.3 462.8,869.3 456.5,873.2C450.1,877.1 453.5,875.6 446.2,877.6C438.9,879.5 442.3,879.1 434.6,879.1C426.8,879.1 430.7,880.0 422.9,877.6C415.1,875.2 418.5,876.6 411.2,871.8C403.9,866.9 407.3,869.3 401.0,863.0C394.7,856.7 396.8,860.1 392.2,852.8C387.6,845.5 388.8,848.9 387.1,841.1C385.4,833.3 385.9,836.7 387.1,829.4C388.3,822.1 387.1,825.0 390.8,819.2C394.4,813.4 392.7,816.3 398.1,811.9C403.4,807.5 401.0,809.2 406.8,806.1C412.7,802.9 409.7,804.1 415.6,802.4C421.4,800.7 417.5,801.7 424.3,800.9Z" fill="none" stroke="#33307e" stroke-width="0.9" stroke-opacity="0.75"/>
<path d="M409.0,814.8C411.7,815.8 411.4,816.8 411.9,820.7C412.4,824.5 409.7,822.6 410.5,826.5C411.2,830.4 410.5,828.9 414.1,832.3C417.8,835.7 416.5,833.8 421.4,836.7C426.3,839.6 425.3,837.2 428.7,841.1C432.1,845.0 429.2,844.0 431.6,848.4C434.1,852.8 433.8,849.9 436.0,854.2C438.2,858.6 438.7,856.7 438.2,861.5C437.7,866.4 437.0,865.7 434.6,868.8C432.1,872.0 432.9,872.0 430.9,871.0C429.0,870.0 428.2,870.0 428.7,865.9C429.2,861.8 431.6,863.0 432.4,858.6C433.1,854.2 434.1,855.2 430.9,852.8C427.7,850.3 427.5,850.3 422.9,851.3C418.3,852.3 420.2,852.3 417.0,855.7C413.9,859.1 416.5,860.6 413.4,861.5C410.2,862.5 411.2,861.0 407.5,858.6C403.9,856.2 405.6,857.6 402.4,854.2C399.3,850.8 400.0,852.3 398.1,848.4C396.1,844.5 397.8,846.4 396.6,842.6C395.4,838.7 393.4,840.1 394.4,836.7C395.4,833.3 399.0,835.3 399.5,832.3C400.0,829.4 395.4,830.9 395.9,828.0C396.4,825.0 398.3,827.0 401.0,823.6C403.7,820.2 401.2,820.7 403.9,817.7C406.6,814.8 406.3,813.8 409.0,814.8Z" fill="#fff" stroke="#fff" stroke-width="0"/>
<path d="M452.1,817.7C453.8,821.6 454.5,822.1 457.2,829.4C459.9,836.7 458.6,832.3 460.1,839.6C461.6,846.9 461.1,847.4 461.6,851.3" fill="none" stroke="#f6d4e2" stroke-width="2.0" stroke-linecap="round"/>
<path d="M459.4,838.9C460.4,840.5 461.5,842.1 462.6,843.7" fill="none" stroke="#fff" stroke-width="2.4" stroke-linecap="round"/>
</g></g>
<g filter="url(#tex)"><g clip-path="url(#hc5)">
<g filter="url(#soft)">
<path d="M46.5,929.9C52.8,929.5 49.7,929.1 54.7,930.5C59.8,931.9 57.4,930.9 61.7,934.0C66.0,937.1 64.1,935.6 67.6,939.9C71.1,944.1 69.9,941.8 72.2,946.9C74.6,951.9 73.8,949.2 74.6,955.0C75.3,960.9 75.5,958.5 74.6,964.4C73.6,970.2 74.4,967.5 71.6,972.6C68.9,977.6 70.9,975.5 66.4,979.6C61.9,983.6 64.1,982.5 58.2,984.8C52.4,987.2 54.7,987.2 48.9,986.6C43.0,986.0 46.5,985.0 40.7,983.1C34.9,981.1 37.2,983.5 31.4,980.7C25.5,978.0 27.7,979.6 23.2,974.9C18.7,970.2 20.3,972.2 17.9,966.7C15.6,961.3 16.0,964.4 16.2,958.5C16.4,952.7 17.0,955.0 18.5,949.2C20.1,943.4 18.1,945.7 20.8,941.0C23.6,936.4 21.6,938.3 26.7,935.2C31.7,932.1 29.4,933.4 36.0,931.7C42.6,929.9 40.3,930.3 46.5,929.9Z" fill="#6f4fb5" stroke="#6f4fb5" stroke-width="3"/>
<path d="M64.1,938.7C65.6,939.1 68.7,941.4 72.2,946.9C75.8,952.3 73.9,949.2 74.8,955.0C75.7,960.9 75.9,958.5 74.8,964.4C73.8,970.2 74.5,967.5 71.6,972.6C68.8,977.6 70.9,975.4 66.4,979.6C61.9,983.7 64.1,982.6 58.2,985.1C52.4,987.5 53.9,987.1 48.9,986.8C43.8,986.5 43.4,986.3 43.0,984.2C42.6,982.2 43.0,981.9 47.7,980.7C52.4,979.6 51.2,983.1 57.1,980.7C62.9,978.4 61.1,979.2 65.2,973.7C69.3,968.3 67.8,970.6 69.3,964.4C70.9,958.2 70.5,961.3 69.9,955.0C69.3,948.8 69.5,951.1 67.6,945.7C65.6,940.2 62.5,938.3 64.1,938.7Z" fill="url(#rgC)"/>
<path d="M20.8,941.0C23.6,936.4 21.6,938.3 26.7,935.2C31.7,932.1 30.6,933.0 36.0,931.7C41.5,930.3 42.6,929.9 43.0,931.1C43.4,932.3 41.9,932.3 37.2,935.2C32.5,938.1 33.5,935.6 29.0,939.9C24.5,944.1 26.1,941.8 23.8,948.0C21.4,954.3 21.4,951.5 22.0,958.5C22.6,965.5 22.4,963.2 25.5,969.1C28.6,974.9 30.2,972.7 31.4,976.1C32.5,979.4 31.7,979.4 29.0,979.0C26.3,978.6 26.9,979.0 23.2,974.9C19.5,970.8 20.3,972.2 17.9,966.7C15.6,961.3 16.0,964.4 16.2,958.5C16.4,952.7 17.0,955.0 18.5,949.2C20.1,943.4 18.1,945.7 20.8,941.0Z" fill="#d93468"/>
<path d="M31.4,946.3C32.3,944.3 32.1,944.7 36.0,943.4C39.9,942.0 40.7,940.6 43.0,942.2C45.4,943.7 45.4,945.7 43.0,948.0C40.7,950.4 39.3,948.8 36.0,949.2C32.7,949.6 34.7,950.2 33.1,949.2C31.6,948.2 30.4,948.2 31.4,946.3Z" fill="#d23a74"/>
<path d="M27.3,963.2C28.8,962.8 29.4,964.0 31.4,966.7C33.3,969.4 33.5,969.4 33.1,971.4C32.7,973.3 32.3,973.7 30.2,972.6C28.0,971.4 27.7,971.0 26.7,967.9C25.7,964.8 25.7,963.6 27.3,963.2Z" fill="#d83a6c"/>
</g>
<rect x="13.2" y="926.9" width="64.4" height="62.6" filter="url(#grainW)" opacity="0.2"/>
<rect x="13.2" y="926.9" width="64.4" height="62.6" filter="url(#grainB)" opacity="0.2"/>
<rect x="13.2" y="926.9" width="64.4" height="62.6" filter="url(#grainP)" opacity="0.5"/>
<path d="M46.5,929.9C52.8,929.5 49.7,929.1 54.7,930.5C59.8,931.9 57.4,930.9 61.7,934.0C66.0,937.1 64.1,935.6 67.6,939.9C71.1,944.1 69.9,941.8 72.2,946.9C74.6,951.9 73.8,949.2 74.6,955.0C75.3,960.9 75.5,958.5 74.6,964.4C73.6,970.2 74.4,967.5 71.6,972.6C68.9,977.6 70.9,975.5 66.4,979.6C61.9,983.6 64.1,982.5 58.2,984.8C52.4,987.2 54.7,987.2 48.9,986.6C43.0,986.0 46.5,985.0 40.7,983.1C34.9,981.1 37.2,983.5 31.4,980.7C25.5,978.0 27.7,979.6 23.2,974.9C18.7,970.2 20.3,972.2 17.9,966.7C15.6,961.3 16.0,964.4 16.2,958.5C16.4,952.7 17.0,955.0 18.5,949.2C20.1,943.4 18.1,945.7 20.8,941.0C23.6,936.4 21.6,938.3 26.7,935.2C31.7,932.1 29.4,933.4 36.0,931.7C42.6,929.9 40.3,930.3 46.5,929.9Z" fill="none" stroke="#33307e" stroke-width="0.9" stroke-opacity="0.75"/>
<path d="M45.4,939.3C46.9,939.7 46.2,941.8 48.3,944.5C50.4,947.3 50.0,944.7 51.8,947.4C53.5,950.2 51.4,950.6 53.5,952.7C55.7,954.8 55.5,952.3 58.2,953.9C60.9,955.4 60.4,954.3 61.7,957.4C63.1,960.5 62.7,959.7 62.3,963.2C61.9,966.7 62.3,965.2 60.6,967.9C58.8,970.6 59.0,968.3 57.1,971.4C55.1,974.5 57.1,974.7 54.7,977.2C52.4,979.8 53.2,979.0 50.0,979.0C46.9,979.0 48.1,979.4 45.4,977.2C42.6,975.1 44.6,974.9 41.9,972.6C39.1,970.2 40.1,970.6 37.2,970.2C34.3,969.8 35.1,972.6 33.1,971.4C31.2,970.2 33.3,969.4 31.4,966.7C29.4,964.0 27.9,965.9 27.3,963.2C26.7,960.5 29.8,961.7 29.6,958.5C29.4,955.4 26.7,956.2 26.7,953.9C26.7,951.5 29.4,953.5 29.6,951.5C29.8,949.6 26.3,949.8 27.3,948.0C28.2,946.3 29.8,945.9 32.5,946.3C35.3,946.7 34.7,949.8 35.4,949.2C36.2,948.6 33.1,945.9 34.9,944.5C36.6,943.2 38.2,943.9 40.7,945.1C43.2,946.3 41.5,948.6 42.5,948.0C43.4,947.4 42.6,946.3 43.6,943.4C44.6,940.4 43.8,938.9 45.4,939.3Z" fill="#fff" stroke="#fff" stroke-width="0"/>
</g></g>
<g filter="url(#tex)"><g clip-path="url(#hc6)">
<g filter="url(#soft)">
<path d="M133.5,923.3C139.4,923.1 136.3,923.3 141.7,925.0C147.2,926.8 144.4,926.2 149.9,928.5C155.3,930.8 153.4,928.9 158.1,932.0C162.7,935.1 161.0,933.2 163.9,937.9C166.8,942.5 165.3,940.2 166.8,946.0C168.4,951.9 168.2,949.1 168.6,955.4C169.0,961.6 169.2,959.3 168.0,964.7C166.8,970.2 167.6,967.1 165.1,971.7C162.5,976.4 163.9,974.1 160.4,978.7C156.9,983.4 158.5,981.5 154.6,985.7C150.7,990.0 152.6,988.9 148.7,991.6C144.8,994.3 147.2,994.3 142.9,993.9C138.6,993.5 140.5,992.7 135.9,990.4C131.2,988.1 133.9,989.2 128.9,986.9C123.8,984.6 125.8,986.5 120.7,983.4C115.6,980.3 118.0,982.2 113.7,977.6C109.4,972.9 111.4,975.2 107.8,969.4C104.3,963.5 105.3,966.3 103.2,960.0C101.0,953.8 101.0,956.5 101.4,950.7C101.8,944.9 101.8,947.2 104.3,942.5C106.9,937.9 105.1,940.8 109.0,936.7C112.9,932.6 111.0,934.0 116.0,930.3C121.1,926.6 118.4,927.9 124.2,925.6C130.0,923.3 127.7,923.5 133.5,923.3Z" fill="#5b74cc" stroke="#5b74cc" stroke-width="3"/>
<path d="M146.4,932.0C147.6,928.5 148.7,930.3 153.4,930.8C158.1,931.4 156.5,930.8 160.4,933.8C164.3,936.7 162.8,935.1 165.1,939.6C167.3,944.1 166.2,941.6 167.2,947.2C168.1,952.8 168.7,950.7 168.0,956.5C167.3,962.4 167.2,960.0 165.1,964.7C162.9,969.4 164.3,967.8 161.6,970.6C158.8,973.3 159.2,973.7 156.9,972.9C154.6,972.1 156.5,971.3 154.6,968.2C152.6,965.1 151.8,966.7 151.1,963.5C150.3,960.4 152.2,962.4 152.2,958.9C152.2,955.4 151.1,956.9 151.1,953.0C151.1,949.1 152.6,951.1 152.2,947.2C151.8,943.3 151.8,946.4 149.9,941.4C147.9,936.3 145.2,935.5 146.4,932.0Z" fill="url(#rgC)"/>
<path d="M102.2,947.2C103.3,941.6 103.6,943.5 106.7,943.1C109.7,942.7 109.0,943.1 111.4,946.0C113.7,948.9 113.1,948.0 113.7,951.9C114.3,955.8 113.1,953.4 113.1,957.7C113.1,962.0 112.3,961.2 113.7,964.7C115.0,968.2 115.2,965.7 117.2,968.2C119.1,970.7 117.6,969.6 119.5,972.3C121.5,975.0 122.8,973.5 123.0,976.4C123.2,979.3 123.2,980.9 120.1,981.1C117.0,981.3 117.7,980.9 113.7,977.0C109.7,973.1 111.5,975.0 108.1,969.4C104.7,963.7 105.4,967.4 103.4,960.0C101.5,952.6 101.2,952.8 102.2,947.2Z" fill="#dc2c56"/>
<path d="M117.2,968.2C118.0,966.3 119.7,966.1 121.9,966.5C124.0,966.9 124.4,967.4 123.6,969.4C122.8,971.3 121.7,972.7 119.5,972.3C117.4,971.9 116.4,970.2 117.2,968.2Z" fill="#dc2c56"/>
<path d="M155.7,941.4C157.3,944.5 157.7,944.5 160.4,950.7C163.1,956.9 162.9,953.8 163.9,960.0C164.9,966.3 163.5,966.3 163.3,969.4" fill="none" stroke="#6a76cc" stroke-width="2.0" stroke-linecap="round" stroke-opacity="0.95"/>
</g>
<rect x="98.4" y="920.3" width="73.2" height="76.7" filter="url(#grainW)" opacity="0.2"/>
<rect x="98.4" y="920.3" width="73.2" height="76.7" filter="url(#grainB)" opacity="0.2"/>
<rect x="98.4" y="920.3" width="73.2" height="76.7" filter="url(#grainP)" opacity="0.5"/>
<path d="M133.5,923.3C139.4,923.1 136.3,923.3 141.7,925.0C147.2,926.8 144.4,926.2 149.9,928.5C155.3,930.8 153.4,928.9 158.1,932.0C162.7,935.1 161.0,933.2 163.9,937.9C166.8,942.5 165.3,940.2 166.8,946.0C168.4,951.9 168.2,949.1 168.6,955.4C169.0,961.6 169.2,959.3 168.0,964.7C166.8,970.2 167.6,967.1 165.1,971.7C162.5,976.4 163.9,974.1 160.4,978.7C156.9,983.4 158.5,981.5 154.6,985.7C150.7,990.0 152.6,988.9 148.7,991.6C144.8,994.3 147.2,994.3 142.9,993.9C138.6,993.5 140.5,992.7 135.9,990.4C131.2,988.1 133.9,989.2 128.9,986.9C123.8,984.6 125.8,986.5 120.7,983.4C115.6,980.3 118.0,982.2 113.7,977.6C109.4,972.9 111.4,975.2 107.8,969.4C104.3,963.5 105.3,966.3 103.2,960.0C101.0,953.8 101.0,956.5 101.4,950.7C101.8,944.9 101.8,947.2 104.3,942.5C106.9,937.9 105.1,940.8 109.0,936.7C112.9,932.6 111.0,934.0 116.0,930.3C121.1,926.6 118.4,927.9 124.2,925.6C130.0,923.3 127.7,923.5 133.5,923.3Z" fill="none" stroke="#33307e" stroke-width="0.9" stroke-opacity="0.75"/>
<path d="M133.5,929.1C137.4,929.1 135.9,928.7 139.4,930.8C142.9,933.0 140.9,932.0 144.1,935.5C147.2,939.0 146.0,937.5 148.7,941.4C151.4,945.3 151.4,943.3 152.2,947.2C153.0,951.1 151.1,949.1 151.1,953.0C151.1,956.9 152.2,955.4 152.2,958.9C152.2,962.4 150.3,960.4 151.1,963.5C151.8,966.7 152.6,965.1 154.6,968.2C156.5,971.3 156.5,969.8 156.9,972.9C157.3,976.0 157.7,974.4 155.7,977.6C153.8,980.7 154.2,978.7 151.1,982.2C147.9,985.7 149.5,985.7 146.4,988.1C143.3,990.4 145.2,990.4 141.7,989.2C138.2,988.1 139.8,987.3 135.9,984.6C132.0,981.8 134.3,983.8 130.0,981.1C125.8,978.3 126.5,979.3 123.0,976.4C119.5,973.5 119.5,974.6 119.5,972.3C119.5,970.0 122.3,971.1 123.0,969.4C123.8,967.6 123.8,967.4 121.9,967.1C119.9,966.7 119.9,969.0 117.2,968.2C114.5,967.4 115.0,968.2 113.7,964.7C112.3,961.2 113.1,962.0 113.1,957.7C113.1,953.4 114.3,955.8 113.7,951.9C113.1,948.0 111.7,949.5 111.4,946.0C111.0,942.5 110.6,944.5 112.5,941.4C114.5,938.2 113.7,939.6 117.2,936.7C120.7,933.8 119.5,934.5 123.0,932.6C126.5,930.7 124.2,932.0 127.7,930.8C131.2,929.7 129.6,929.1 133.5,929.1Z" fill="#fff" stroke="#fff" stroke-width="1.4"/>
<path d="M156.9,937.6C157.6,939.1 157.6,939.1 159.0,941.9C160.4,944.7 160.4,944.7 161.1,946.0" fill="none" stroke="#fff" stroke-width="1.4" stroke-linecap="round"/>
</g></g>
<g filter="url(#tex)"><g clip-path="url(#hc7)">
<g filter="url(#soft)">
<path d="M223.7,916.6C229.4,916.4 226.8,916.8 232.9,918.5C239.1,920.3 236.0,919.4 242.1,921.8C248.3,924.2 245.6,923.6 251.3,925.8C257.0,928.0 254.8,924.9 259.2,928.4C263.6,931.9 262.1,930.1 264.5,936.3C266.9,942.4 266.0,939.8 266.4,946.8C266.9,953.8 266.9,951.2 265.8,957.3C264.7,963.4 264.9,960.4 263.1,965.2C261.4,970.0 263.1,966.9 260.5,971.8C257.9,976.6 258.3,974.4 255.3,979.6C252.2,984.9 254.4,983.1 251.3,987.5C248.3,991.9 250.4,990.1 246.1,992.8C241.7,995.4 243.0,995.4 238.2,995.4C233.4,995.4 236.0,995.4 231.6,992.8C227.2,990.1 229.9,990.1 225.0,987.5C220.2,984.9 222.9,987.1 217.2,984.9C211.5,982.7 213.7,984.9 208.0,980.9C202.3,977.0 204.7,979.2 200.1,973.1C195.5,966.9 197.5,969.6 194.2,962.6C190.9,955.5 191.8,958.6 190.2,952.0C188.7,945.5 188.5,948.5 189.6,942.8C190.7,937.2 190.0,939.8 193.5,935.0C197.0,930.1 195.3,932.3 200.1,928.4C204.9,924.5 202.7,926.2 208.0,923.1C213.2,920.1 210.6,921.4 215.8,919.2C221.1,917.0 218.0,916.8 223.7,916.6Z" fill="#5b74cc" stroke="#5b74cc" stroke-width="3"/>
<path d="M243.4,944.2C245.6,939.3 245.2,941.1 248.7,936.3C252.2,931.5 249.6,931.5 253.9,929.7C258.3,928.0 258.0,928.0 261.8,931.0C265.7,934.1 263.9,933.2 265.5,938.9C267.1,944.6 266.6,942.0 266.7,948.1C266.8,954.2 267.4,952.0 265.8,957.3C264.2,962.6 264.9,960.8 261.8,963.9C258.8,966.9 261.0,965.2 256.6,966.5C252.2,967.8 253.1,969.1 248.7,967.8C244.3,966.5 246.1,966.1 243.4,962.6C240.8,959.1 241.2,961.2 240.8,957.3C240.4,953.4 241.2,955.1 242.1,950.7C243.0,946.4 241.2,949.0 243.4,944.2Z" fill="url(#rgC)"/>
<path d="M227.7,919.2C229.0,917.9 229.9,918.8 235.6,920.5C241.2,922.3 240.4,921.4 244.8,924.5C249.1,927.5 248.7,925.8 248.7,929.7C248.7,933.6 248.3,936.3 244.8,936.3C241.2,936.3 242.6,933.6 238.2,929.7C233.8,925.8 235.1,928.0 231.6,924.5C228.1,920.9 226.4,920.5 227.7,919.2Z" fill="#dd3868"/>
<path d="M190.4,944.2C191.8,940.4 191.8,941.3 194.8,940.9C197.8,940.4 197.2,940.4 199.4,942.8C201.6,945.3 200.3,943.7 201.4,948.1C202.5,952.5 201.4,951.2 202.7,956.0C204.0,960.8 203.1,959.1 205.3,962.6C207.5,966.1 206.2,964.3 209.3,966.5C212.3,968.7 213.9,966.9 214.5,969.1C215.2,971.3 211.2,970.4 211.2,973.1C211.2,975.7 211.2,975.3 214.5,977.0C217.8,978.8 217.2,977.0 221.1,978.3C225.0,979.6 225.5,978.3 226.4,980.9C227.2,983.6 227.2,985.1 223.7,986.2C220.2,987.3 221.1,986.2 215.8,984.4C210.6,982.5 213.2,984.5 208.0,980.7C202.7,976.8 204.6,978.8 200.1,972.8C195.6,966.8 197.6,969.5 194.4,962.6C191.3,955.6 192.0,958.2 190.6,952.0C189.3,945.9 189.0,947.9 190.4,944.2Z" fill="#dc2c56"/>
<path d="M239.5,932.3C241.2,935.0 241.7,935.8 244.8,940.2C247.8,944.6 247.4,943.7 248.7,945.5" fill="none" stroke="#6670c8" stroke-width="2.2" stroke-linecap="round" stroke-opacity="0.95"/>
</g>
<rect x="186.6" y="913.6" width="82.9" height="84.8" filter="url(#grainW)" opacity="0.2"/>
<rect x="186.6" y="913.6" width="82.9" height="84.8" filter="url(#grainB)" opacity="0.2"/>
<rect x="186.6" y="913.6" width="82.9" height="84.8" filter="url(#grainP)" opacity="0.5"/>
<path d="M223.7,916.6C229.4,916.4 226.8,916.8 232.9,918.5C239.1,920.3 236.0,919.4 242.1,921.8C248.3,924.2 245.6,923.6 251.3,925.8C257.0,928.0 254.8,924.9 259.2,928.4C263.6,931.9 262.1,930.1 264.5,936.3C266.9,942.4 266.0,939.8 266.4,946.8C266.9,953.8 266.9,951.2 265.8,957.3C264.7,963.4 264.9,960.4 263.1,965.2C261.4,970.0 263.1,966.9 260.5,971.8C257.9,976.6 258.3,974.4 255.3,979.6C252.2,984.9 254.4,983.1 251.3,987.5C248.3,991.9 250.4,990.1 246.1,992.8C241.7,995.4 243.0,995.4 238.2,995.4C233.4,995.4 236.0,995.4 231.6,992.8C227.2,990.1 229.9,990.1 225.0,987.5C220.2,984.9 222.9,987.1 217.2,984.9C211.5,982.7 213.7,984.9 208.0,980.9C202.3,977.0 204.7,979.2 200.1,973.1C195.5,966.9 197.5,969.6 194.2,962.6C190.9,955.5 191.8,958.6 190.2,952.0C188.7,945.5 188.5,948.5 189.6,942.8C190.7,937.2 190.0,939.8 193.5,935.0C197.0,930.1 195.3,932.3 200.1,928.4C204.9,924.5 202.7,926.2 208.0,923.1C213.2,920.1 210.6,921.4 215.8,919.2C221.1,917.0 218.0,916.8 223.7,916.6Z" fill="none" stroke="#33307e" stroke-width="0.9" stroke-opacity="0.75"/>
<path d="M222.4,922.5C226.8,921.6 224.2,921.6 227.7,923.1C231.2,924.7 229.4,924.0 232.9,927.1C236.4,930.1 235.1,928.8 238.2,932.3C241.2,935.8 240.4,933.6 242.1,937.6C243.9,941.5 243.4,939.8 243.4,944.2C243.4,948.5 243.0,946.4 242.1,950.7C241.2,955.1 240.4,953.4 240.8,957.3C241.2,961.2 240.8,959.1 243.4,962.6C246.1,966.1 246.1,963.9 248.7,967.8C251.3,971.8 250.9,970.0 251.3,974.4C251.8,978.8 251.8,976.6 250.0,980.9C248.3,985.3 249.6,984.0 246.1,987.5C242.6,991.0 243.4,991.0 239.5,991.5C235.6,991.9 237.7,991.5 234.2,988.8C230.7,986.2 231.6,986.6 229.0,983.6C226.4,980.5 229.0,981.4 226.4,979.6C223.7,977.9 225.0,979.2 221.1,978.3C217.2,977.4 217.8,978.8 214.5,977.0C211.2,975.3 211.2,975.7 211.2,973.1C211.2,970.4 215.2,971.3 214.5,969.1C213.9,966.9 212.3,968.7 209.3,966.5C206.2,964.3 207.5,966.1 205.3,962.6C203.1,959.1 204.0,960.8 202.7,956.0C201.4,951.2 202.7,952.5 201.4,948.1C200.1,943.7 198.8,946.4 198.8,942.8C198.8,939.3 199.6,941.1 201.4,937.6C203.1,934.1 200.5,935.0 204.0,932.3C207.5,929.7 208.4,931.9 211.9,929.7C215.4,927.5 211.0,928.2 214.5,925.8C218.0,923.4 218.0,923.4 222.4,922.5Z" fill="#fff" stroke="#fff" stroke-width="1.4"/>
<path d="M252.0,933.0C253.1,934.7 252.9,934.1 255.3,938.2C257.6,942.4 257.7,943.1 258.9,945.5" fill="none" stroke="#fff" stroke-width="3.6" stroke-linecap="round"/>
</g></g>
<g filter="url(#tex)"><g clip-path="url(#hc8)">
<g filter="url(#soft)">
<path d="M321.9,914.7C327.8,914.7 325.1,914.5 331.3,916.1C337.6,917.6 334.5,917.6 340.7,919.4C347.0,921.2 343.9,919.9 350.2,921.4C356.4,923.0 354.6,921.0 359.6,924.1C364.5,927.2 362.5,925.5 364.9,930.8C367.4,936.2 365.8,933.5 366.9,940.2C368.1,946.9 368.1,943.8 368.3,951.0C368.5,958.1 368.7,955.0 367.6,961.7C366.5,968.4 367.6,965.3 364.9,971.1C362.2,976.9 363.1,973.8 359.6,979.2C356.0,984.6 358.2,982.3 354.2,987.2C350.2,992.2 352.4,991.0 347.5,994.0C342.5,996.9 344.8,996.0 339.4,996.0C334.0,996.0 336.7,996.0 331.3,994.0C326.0,991.9 328.7,992.6 323.3,989.9C317.9,987.2 320.6,989.0 315.2,985.9C309.9,982.8 312.5,985.4 307.2,980.5C301.8,975.6 303.8,977.4 299.1,971.1C294.4,964.9 296.2,968.4 293.1,961.7C289.9,955.0 290.8,958.1 289.7,951.0C288.6,943.8 288.6,946.5 289.7,940.2C290.8,934.0 289.9,937.1 293.1,932.2C296.2,927.2 294.9,929.5 299.1,925.5C303.4,921.4 300.9,923.2 305.8,920.1C310.8,917.0 308.5,917.8 313.9,916.1C319.3,914.3 316.1,914.7 321.9,914.7Z" fill="#5b74cc" stroke="#5b74cc" stroke-width="3"/>
<path d="M340.7,941.6C343.0,939.3 343.0,944.3 346.1,941.6C349.3,938.9 349.7,938.4 350.2,933.5C350.6,928.6 346.6,930.4 347.5,926.8C348.4,923.2 348.6,923.4 352.8,922.8C357.1,922.1 356.1,921.9 360.2,924.8C364.3,927.7 362.9,926.4 365.2,931.5C367.5,936.7 366.1,933.7 367.2,940.2C368.3,946.7 368.3,943.8 368.5,951.0C368.8,958.1 369.1,955.2 367.9,961.7C366.7,968.2 368.1,967.3 364.9,970.4C361.7,973.6 363.1,970.9 358.2,971.1C353.3,971.3 356.0,972.9 350.2,971.1C344.3,969.3 344.8,969.3 340.7,965.7C336.7,962.2 338.1,964.4 338.1,960.4C338.1,956.3 340.3,957.7 340.7,953.7C341.2,949.6 339.4,952.3 339.4,948.3C339.4,944.3 338.5,943.8 340.7,941.6Z" fill="url(#rgC)"/>
<path d="M290.0,952.3C290.2,948.7 291.1,948.3 293.7,951.0C296.3,953.7 294.6,954.6 297.8,960.4C300.9,966.2 299.1,964.9 303.1,968.4C307.2,972.0 306.7,969.3 309.9,971.1C313.0,972.9 309.9,971.6 312.5,973.8C315.2,976.0 313.9,976.9 317.9,977.8C321.9,978.7 321.5,975.4 324.6,976.5C327.8,977.6 327.8,977.2 327.3,981.2C326.9,985.2 327.3,987.1 323.3,988.6C319.3,990.1 320.6,988.4 315.2,985.6C309.9,982.9 312.5,985.2 307.2,980.3C301.8,975.3 303.8,977.0 299.1,970.9C294.5,964.7 296.3,967.9 293.2,961.7C290.2,955.5 289.8,955.9 290.0,952.3Z" fill="#de3666"/>
<path d="M308.5,965.7C310.1,964.1 312.5,964.4 315.2,965.1C317.9,965.7 318.1,966.1 316.6,967.8C315.0,969.4 313.2,970.7 310.5,970.0C307.8,969.4 307.0,967.4 308.5,965.7Z" fill="#dc2c56"/>
<path d="M336.7,929.5C339.0,932.0 339.0,932.0 343.4,936.9C347.9,941.8 346.1,939.1 350.2,944.3C354.2,949.4 353.7,949.6 355.5,952.3" fill="none" stroke="#6670c8" stroke-width="3.0" stroke-linecap="round" stroke-opacity="0.95"/>
<path d="M347.5,972.5C350.2,973.4 351.0,975.6 355.5,975.2C360.0,974.7 359.1,972.5 360.9,971.1" fill="none" stroke="#5a68c4" stroke-width="3.0" stroke-linecap="round" stroke-opacity="0.95"/>
</g>
<rect x="286.7" y="911.7" width="84.6" height="87.3" filter="url(#grainW)" opacity="0.2"/>
<rect x="286.7" y="911.7" width="84.6" height="87.3" filter="url(#grainB)" opacity="0.2"/>
<rect x="286.7" y="911.7" width="84.6" height="87.3" filter="url(#grainP)" opacity="0.5"/>
<path d="M321.9,914.7C327.8,914.7 325.1,914.5 331.3,916.1C337.6,917.6 334.5,917.6 340.7,919.4C347.0,921.2 343.9,919.9 350.2,921.4C356.4,923.0 354.6,921.0 359.6,924.1C364.5,927.2 362.5,925.5 364.9,930.8C367.4,936.2 365.8,933.5 366.9,940.2C368.1,946.9 368.1,943.8 368.3,951.0C368.5,958.1 368.7,955.0 367.6,961.7C366.5,968.4 367.6,965.3 364.9,971.1C362.2,976.9 363.1,973.8 359.6,979.2C356.0,984.6 358.2,982.3 354.2,987.2C350.2,992.2 352.4,991.0 347.5,994.0C342.5,996.9 344.8,996.0 339.4,996.0C334.0,996.0 336.7,996.0 331.3,994.0C326.0,991.9 328.7,992.6 323.3,989.9C317.9,987.2 320.6,989.0 315.2,985.9C309.9,982.8 312.5,985.4 307.2,980.5C301.8,975.6 303.8,977.4 299.1,971.1C294.4,964.9 296.2,968.4 293.1,961.7C289.9,955.0 290.8,958.1 289.7,951.0C288.6,943.8 288.6,946.5 289.7,940.2C290.8,934.0 289.9,937.1 293.1,932.2C296.2,927.2 294.9,929.5 299.1,925.5C303.4,921.4 300.9,923.2 305.8,920.1C310.8,917.0 308.5,917.8 313.9,916.1C319.3,914.3 316.1,914.7 321.9,914.7Z" fill="none" stroke="#33307e" stroke-width="0.9" stroke-opacity="0.75"/>
<path d="M321.9,921.4C326.0,921.4 324.6,920.5 328.7,922.8C332.7,925.0 330.9,924.1 334.0,928.1C337.2,932.2 335.8,930.4 338.1,934.9C340.3,939.3 340.3,937.1 340.7,941.6C341.2,946.1 339.4,944.3 339.4,948.3C339.4,952.3 341.2,949.6 340.7,953.7C340.3,957.7 338.1,956.3 338.1,960.4C338.1,964.4 338.1,961.7 340.7,965.7C343.4,969.8 343.9,967.5 346.1,972.5C348.4,977.4 347.9,975.6 347.5,980.5C347.0,985.4 347.5,983.4 344.8,987.2C342.1,991.0 343.0,991.0 339.4,991.9C335.8,992.8 337.6,991.9 334.0,989.9C330.5,987.9 330.9,989.0 328.7,985.9C326.4,982.8 328.7,983.7 327.3,980.5C326.0,977.4 327.8,977.4 324.6,976.5C321.5,975.6 321.9,978.7 317.9,977.8C313.9,976.9 315.2,976.5 312.5,973.8C309.9,971.1 309.0,972.0 309.9,969.8C310.8,967.5 315.7,968.4 315.2,967.1C314.8,965.7 312.5,968.0 308.5,965.7C304.5,963.5 305.8,964.4 303.1,960.4C300.5,956.3 302.2,958.1 300.5,953.7C298.7,949.2 299.1,951.4 297.8,946.9C296.4,942.5 296.0,944.7 296.4,940.2C296.9,935.8 296.4,937.5 299.1,933.5C301.8,929.5 300.0,930.8 304.5,928.1C309.0,925.5 308.5,927.2 312.5,925.5C316.6,923.7 313.4,924.1 316.6,922.8C319.7,921.4 317.9,921.4 321.9,921.4Z" fill="#fff" stroke="#fff" stroke-width="1.4"/>
<path d="M350.2,928.1C351.7,930.6 351.3,929.3 354.9,935.5C358.4,941.8 358.9,943.1 360.9,946.9" fill="none" stroke="#fff" stroke-width="3.4" stroke-linecap="round"/>
</g></g>
<g filter="url(#tex)"><g clip-path="url(#hc9)">
<g filter="url(#soft)">
<path d="M428.0,913.5C434.0,913.8 431.2,914.7 437.7,915.6C444.2,916.6 440.9,915.6 447.4,916.3C453.9,917.0 451.1,915.9 457.1,917.7C463.1,919.6 460.8,917.7 465.4,921.9C470.1,926.0 468.0,924.2 471.0,930.2C474.0,936.2 472.8,933.0 474.5,939.9C476.1,946.8 475.4,943.6 475.8,951.0C476.3,958.4 477.0,955.2 475.8,962.1C474.7,969.0 474.9,965.8 472.4,971.8C469.8,977.8 471.4,974.6 468.2,980.1C465.0,985.7 466.8,983.8 462.7,988.4C458.5,993.1 460.8,991.0 455.7,994.0C450.6,997.0 453.0,996.5 447.4,997.5C441.9,998.4 444.6,998.4 439.1,996.8C433.5,995.1 436.8,994.9 430.8,992.6C424.8,990.3 427.5,992.1 421.1,989.8C414.6,987.5 417.4,989.4 411.4,985.7C405.3,982.0 407.9,984.3 403.0,978.7C398.2,973.2 400.5,976.0 396.8,969.0C393.1,962.1 394.5,965.8 391.9,957.9C389.4,950.1 389.4,952.8 389.2,945.4C388.9,938.0 388.9,941.3 391.2,935.7C393.6,930.2 392.2,933.0 396.1,928.8C400.0,924.6 397.9,926.7 403.0,923.3C408.1,919.8 405.8,921.2 411.4,918.4C416.9,915.6 414.1,916.6 419.7,914.9C425.2,913.3 422.0,913.3 428.0,913.5Z" fill="#6478cc" stroke="#6478cc" stroke-width="3"/>
<path d="M426.6,915.6C429.8,912.2 430.8,915.4 437.7,915.6C444.6,915.9 440.9,915.6 447.4,916.3C453.9,917.0 451.1,915.9 457.1,917.7C463.1,919.6 460.8,917.7 465.4,921.9C470.1,926.0 467.9,924.2 471.0,930.2C474.1,936.2 473.0,933.0 474.7,939.9C476.4,946.8 475.7,943.6 476.1,951.0C476.6,958.4 477.4,955.2 476.1,962.1C474.9,969.0 475.0,965.8 472.4,971.8C469.7,977.8 472.4,975.5 468.2,980.1C464.1,984.7 465.0,985.2 459.9,985.7C454.8,986.1 456.7,985.7 453.0,981.5C449.3,977.3 452.0,978.3 448.8,973.2C445.6,968.1 446.0,970.9 443.2,966.2C440.5,961.6 440.9,964.4 440.5,959.3C440.0,954.2 442.3,956.1 441.9,951.0C441.4,945.9 440.5,949.1 439.1,944.1C437.7,939.0 439.6,940.4 437.7,935.7C435.9,931.1 436.8,933.4 433.5,930.2C430.3,927.0 430.3,930.9 428.0,926.0C425.7,921.2 423.4,919.1 426.6,915.6Z" fill="url(#rgC)"/>
<path d="M390.5,939.9C392.2,936.2 392.2,936.7 394.7,935.7C397.3,934.8 397.7,934.4 398.2,937.1C398.6,939.9 395.9,939.0 396.1,944.1C396.3,949.1 397.0,945.9 398.9,952.4C400.7,958.9 398.9,957.5 401.6,963.5C404.4,969.5 403.5,967.2 407.2,970.4C410.9,973.6 409.5,971.3 412.7,973.2C416.0,975.0 414.6,974.1 416.9,976.0C419.2,977.8 416.9,977.8 419.7,978.7C422.4,979.7 422.0,977.3 425.2,978.7C428.5,980.1 426.6,981.3 429.4,982.9C432.2,984.5 432.6,980.8 433.5,983.6C434.5,986.4 436.3,989.2 432.2,991.2C428.0,993.2 428.0,991.5 421.1,989.5C414.1,987.6 417.4,989.1 411.4,985.4C405.3,981.7 407.8,983.9 403.0,978.5C398.3,973.0 400.7,975.9 397.1,969.0C393.5,962.2 394.7,965.3 392.2,957.9C389.8,950.5 390.3,952.8 389.7,946.8C389.2,940.8 388.9,943.6 390.5,939.9Z" fill="#dc2c56"/>
<path d="M415.5,969.0C418.3,967.2 417.4,967.2 421.1,967.6C424.8,968.1 426.6,968.6 426.6,970.4C426.6,972.3 424.3,971.3 421.1,973.2C417.8,975.0 419.7,976.0 416.9,976.0C414.1,976.0 413.2,975.5 412.7,973.2C412.3,970.9 412.7,970.9 415.5,969.0Z" fill="#dc2c56"/>
<path d="M440.5,926.0C442.8,927.4 442.8,927.0 447.4,930.2C452.0,933.4 450.2,931.1 454.3,935.7C458.5,940.4 458.0,941.3 459.9,944.1" fill="none" stroke="#6a6cc6" stroke-width="4.5" stroke-linecap="round" stroke-opacity="0.95"/>
<path d="M453.6,982.2C455.7,983.4 456.0,985.0 459.9,985.7C463.8,986.4 463.6,984.7 465.4,984.3" fill="none" stroke="#5f6cc8" stroke-width="3.0" stroke-linecap="round" stroke-opacity="0.95"/>
<path d="M391.9,949.6C392.7,953.3 391.8,953.8 394.2,960.7C396.5,967.6 395.0,964.4 398.9,970.4C402.8,976.4 400.7,973.9 405.8,978.7C410.9,983.6 411.4,982.9 414.1,985.0" fill="none" stroke="#6a76cc" stroke-width="2.0" stroke-linecap="round" stroke-opacity="0.95"/>
</g>
<rect x="386.2" y="910.5" width="92.7" height="89.9" filter="url(#grainW)" opacity="0.2"/>
<rect x="386.2" y="910.5" width="92.7" height="89.9" filter="url(#grainB)" opacity="0.2"/>
<rect x="386.2" y="910.5" width="92.7" height="89.9" filter="url(#grainP)" opacity="0.5"/>
<path d="M428.0,913.5C434.0,913.8 431.2,914.7 437.7,915.6C444.2,916.6 440.9,915.6 447.4,916.3C453.9,917.0 451.1,915.9 457.1,917.7C463.1,919.6 460.8,917.7 465.4,921.9C470.1,926.0 468.0,924.2 471.0,930.2C474.0,936.2 472.8,933.0 474.5,939.9C476.1,946.8 475.4,943.6 475.8,951.0C476.3,958.4 477.0,955.2 475.8,962.1C474.7,969.0 474.9,965.8 472.4,971.8C469.8,977.8 471.4,974.6 468.2,980.1C465.0,985.7 466.8,983.8 462.7,988.4C458.5,993.1 460.8,991.0 455.7,994.0C450.6,997.0 453.0,996.5 447.4,997.5C441.9,998.4 444.6,998.4 439.1,996.8C433.5,995.1 436.8,994.9 430.8,992.6C424.8,990.3 427.5,992.1 421.1,989.8C414.6,987.5 417.4,989.4 411.4,985.7C405.3,982.0 407.9,984.3 403.0,978.7C398.2,973.2 400.5,976.0 396.8,969.0C393.1,962.1 394.5,965.8 391.9,957.9C389.4,950.1 389.4,952.8 389.2,945.4C388.9,938.0 388.9,941.3 391.2,935.7C393.6,930.2 392.2,933.0 396.1,928.8C400.0,924.6 397.9,926.7 403.0,923.3C408.1,919.8 405.8,921.2 411.4,918.4C416.9,915.6 414.1,916.6 419.7,914.9C425.2,913.3 422.0,913.3 428.0,913.5Z" fill="none" stroke="#33307e" stroke-width="0.9" stroke-opacity="0.75"/>
<path d="M425.2,920.5C428.5,921.4 425.2,922.8 428.0,926.0C430.8,929.3 430.3,927.0 433.5,930.2C436.8,933.4 435.9,931.1 437.7,935.7C439.6,940.4 437.7,939.0 439.1,944.1C440.5,949.1 441.4,945.9 441.9,951.0C442.3,956.1 440.0,954.2 440.5,959.3C440.9,964.4 440.5,961.6 443.2,966.2C446.0,970.9 445.6,968.1 448.8,973.2C452.0,978.3 451.6,976.4 453.0,981.5C454.3,986.6 454.8,984.7 453.0,988.4C451.1,992.1 451.6,991.2 447.4,992.6C443.2,994.0 444.6,994.0 440.5,992.6C436.3,991.2 437.2,991.7 434.9,988.4C432.6,985.2 435.4,984.7 433.5,982.9C431.7,981.0 432.2,984.3 429.4,982.9C426.6,981.5 428.5,980.1 425.2,978.7C422.0,977.3 422.4,979.7 419.7,978.7C416.9,977.8 416.4,977.8 416.9,976.0C417.4,974.1 417.8,975.0 421.1,973.2C424.3,971.3 426.6,972.3 426.6,970.4C426.6,968.6 424.8,968.1 421.1,967.6C417.4,967.2 418.3,967.2 415.5,969.0C412.7,970.9 415.5,972.7 412.7,973.2C410.0,973.6 410.9,973.6 407.2,970.4C403.5,967.2 402.1,968.1 401.6,963.5C401.2,958.9 406.7,960.2 405.8,956.5C404.9,952.8 402.1,956.5 398.9,952.4C395.6,948.2 396.3,949.1 396.1,944.1C395.9,939.0 395.9,941.3 398.2,937.1C400.5,933.0 399.1,935.3 403.0,931.6C407.0,927.9 404.9,928.8 410.0,926.0C415.0,923.3 413.2,925.1 418.3,923.3C423.4,921.4 422.0,919.6 425.2,920.5Z" fill="#fff" stroke="#fff" stroke-width="1.2"/>
<path d="M450.2,921.9C452.5,925.1 452.5,924.6 457.1,931.6C461.7,938.5 460.4,935.7 464.1,942.7C467.7,949.6 466.8,949.1 468.2,952.4" fill="none" stroke="#fff" stroke-width="1.6" stroke-linecap="round"/>
</g></g>
</svg></body></html>
